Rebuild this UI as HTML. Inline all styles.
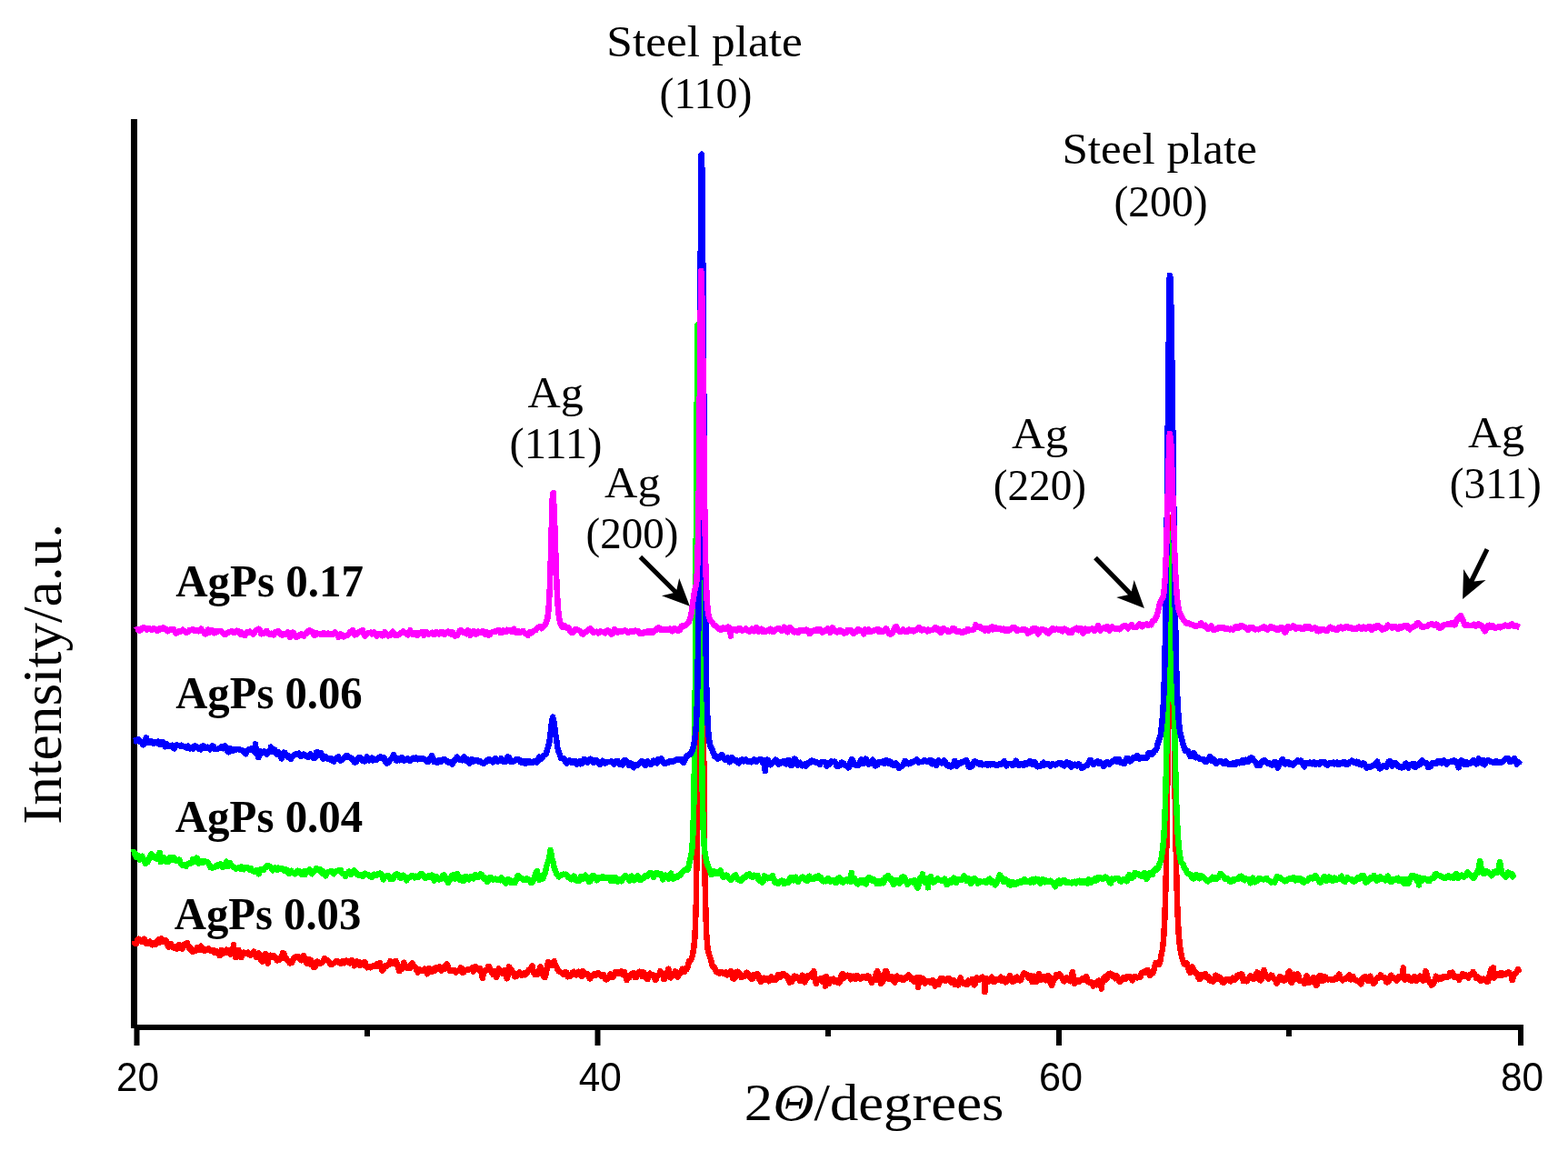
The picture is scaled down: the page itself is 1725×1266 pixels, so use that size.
<!DOCTYPE html>
<html><head><meta charset="utf-8"><title>XRD patterns</title>
<style>html,body{margin:0;padding:0;background:#fff;}svg{display:block;}text{font-family:'Liberation Serif',serif;fill:#000;}text.s{font-family:'Liberation Sans',sans-serif;}</style></head>
<body><svg width="1725" height="1266" viewBox="0 0 1725 1266">
<rect width="1725" height="1266" fill="#fff"/>
<rect x="144" y="131" width="7" height="1000" fill="#000"/>
<rect x="148" y="1127" width="1528" height="6" fill="#000"/>
<rect x="147.5" y="1130" width="6" height="20" fill="#000"/>
<rect x="654.5" y="1130" width="6" height="20" fill="#000"/>
<rect x="1162" y="1130" width="6" height="20" fill="#000"/>
<rect x="1670" y="1130" width="6" height="20" fill="#000"/>
<rect x="401" y="1130" width="6" height="10" fill="#000"/>
<rect x="908" y="1130" width="6" height="10" fill="#000"/>
<rect x="1415" y="1130" width="6" height="10" fill="#000"/>
<polyline points="147.30,1034.6 148.57,1037.9 149.84,1037.9 151.11,1034.0 152.38,1032.7 153.65,1033.2 154.92,1035.5 156.19,1035.8 157.46,1035.6 158.73,1032.7 160.00,1037.4 161.27,1037.6 162.54,1037.6 163.81,1036.3 165.08,1035.7 166.35,1038.0 167.62,1039.2 168.89,1037.4 170.16,1037.2 171.43,1038.4 172.70,1035.2 173.97,1033.6 175.24,1036.9 176.51,1035.7 177.78,1032.5 179.05,1034.3 180.32,1036.0 181.59,1034.6 182.86,1034.4 184.13,1038.5 185.40,1041.6 186.67,1039.7 187.94,1038.2 189.21,1040.8 190.48,1042.2 191.75,1041.0 193.02,1042.4 194.29,1043.8 195.56,1041.0 196.83,1039.2 198.10,1041.4 199.37,1043.1 200.64,1043.6 201.91,1039.3 203.18,1038.3 204.45,1037.9 205.72,1037.1 206.99,1041.1 208.26,1043.4 209.53,1042.5 210.80,1046.1 212.07,1047.0 213.34,1046.0 214.61,1045.7 215.88,1045.4 217.15,1041.9 218.42,1044.3 219.69,1044.8 220.96,1040.6 222.23,1043.0 223.50,1044.5 224.77,1045.8 226.04,1044.3 227.31,1044.4 228.58,1044.9 229.85,1043.5 231.12,1045.4 232.39,1045.8 233.66,1046.0 234.93,1045.3 236.20,1048.0 237.47,1048.1 238.74,1046.4 240.01,1048.1 241.28,1050.9 242.55,1050.7 243.82,1044.9 245.09,1047.1 246.36,1048.2 247.63,1046.0 248.90,1044.8 250.17,1047.7 251.44,1045.4 252.71,1047.9 253.98,1049.6 255.25,1044.3 256.52,1043.8 257.00,1039.0 257.79,1047.6 259.06,1052.8 260.33,1052.9 261.60,1045.2 262.87,1045.2 264.14,1050.3 265.41,1053.2 266.68,1050.8 267.95,1047.6 269.22,1048.8 270.49,1049.1 271.76,1048.2 273.03,1047.7 274.30,1050.0 275.57,1050.9 276.84,1049.9 278.11,1048.6 279.38,1046.7 280.65,1048.8 281.92,1053.0 283.19,1050.8 284.46,1048.4 285.73,1053.5 287.00,1055.8 288.27,1057.6 289.54,1054.0 290.81,1050.1 292.08,1049.2 293.35,1055.8 294.62,1059.5 295.89,1053.0 297.16,1050.8 298.43,1052.9 299.70,1051.3 300.97,1051.3 302.24,1052.2 303.51,1054.2 304.78,1056.4 306.05,1055.5 307.32,1055.8 308.59,1054.0 309.86,1052.8 311.13,1048.1 312.40,1048.9 313.67,1054.2 314.94,1054.2 316.21,1055.9 317.48,1057.7 318.75,1059.4 320.02,1059.2 321.29,1058.5 322.56,1055.6 323.83,1053.0 325.10,1052.5 326.37,1052.7 327.64,1052.0 328.91,1053.2 330.18,1055.3 331.45,1056.3 332.72,1054.2 333.99,1051.1 335.26,1054.2 336.53,1057.6 337.80,1059.8 339.07,1058.7 340.34,1055.3 341.61,1055.7 342.88,1061.5 344.15,1062.3 345.42,1064.0 346.69,1063.8 347.96,1057.8 349.23,1057.7 350.50,1059.2 351.77,1059.7 353.04,1059.6 354.31,1058.7 355.58,1057.2 356.85,1054.0 358.12,1055.2 359.39,1055.8 360.66,1057.1 361.93,1057.4 363.20,1059.7 364.47,1061.0 365.74,1060.1 367.01,1059.5 368.28,1058.6 369.55,1057.3 370.82,1057.3 372.09,1057.5 373.36,1059.2 374.63,1059.7 375.90,1059.5 377.17,1057.0 378.44,1059.3 379.71,1057.7 380.98,1056.6 382.25,1057.7 383.52,1058.1 384.79,1059.3 386.06,1057.8 387.33,1056.0 388.60,1057.6 389.87,1062.3 391.14,1060.8 392.41,1057.4 393.68,1058.0 394.95,1057.8 396.22,1062.1 397.49,1059.1 398.76,1060.7 400.03,1061.5 401.30,1058.2 402.57,1060.9 403.84,1064.2 405.11,1063.7 406.38,1063.2 407.65,1064.2 408.92,1063.2 410.19,1062.6 411.46,1062.2 412.73,1062.6 414.00,1060.8 415.27,1062.6 416.54,1060.8 417.81,1059.2 419.08,1063.1 420.35,1067.5 421.62,1066.2 422.89,1062.8 424.16,1063.4 425.43,1062.0 426.70,1061.8 427.97,1061.0 429.24,1057.2 430.51,1060.0 431.78,1059.8 433.05,1059.0 434.32,1057.4 435.59,1057.0 436.86,1059.7 438.13,1065.3 439.40,1068.2 440.67,1065.9 441.94,1065.9 443.21,1062.6 444.48,1058.7 445.75,1062.2 447.02,1064.5 448.29,1063.4 449.56,1064.5 450.83,1064.9 452.10,1061.4 453.37,1059.3 454.64,1061.7 455.91,1063.1 457.18,1063.9 458.45,1067.6 459.72,1069.4 460.99,1065.9 462.26,1066.6 463.53,1068.2 464.80,1068.2 466.07,1067.8 467.34,1065.6 468.61,1067.8 469.88,1071.2 471.15,1068.8 472.42,1065.0 473.69,1066.9 474.96,1069.1 476.23,1067.2 477.50,1065.5 478.77,1067.7 480.04,1064.3 481.31,1065.4 482.58,1065.1 483.85,1063.6 485.12,1067.6 486.39,1067.0 487.66,1063.8 488.93,1065.7 490.20,1064.1 491.47,1060.4 492.74,1062.5 494.01,1066.4 495.28,1068.1 496.55,1067.4 497.82,1067.0 499.09,1067.5 500.36,1067.3 501.63,1069.4 502.90,1068.4 504.17,1068.0 505.44,1067.6 506.71,1064.3 507.98,1065.0 509.25,1070.0 510.52,1069.2 511.79,1066.9 513.06,1067.2 514.33,1066.4 515.60,1066.8 516.87,1065.9 518.14,1066.1 519.41,1064.6 520.68,1068.5 521.95,1066.3 523.22,1062.9 524.49,1064.9 525.76,1066.3 527.03,1066.7 528.30,1065.3 529.57,1070.0 530.84,1076.1 532.11,1068.8 533.38,1067.3 534.65,1067.5 535.92,1066.7 537.19,1062.9 538.46,1063.6 539.73,1067.9 541.00,1069.6 542.27,1071.7 543.54,1068.5 544.81,1070.2 546.08,1075.1 547.35,1069.0 548.62,1065.5 549.89,1067.4 551.16,1069.0 552.43,1070.7 553.70,1069.3 554.97,1067.2 556.24,1070.4 557.51,1076.4 558.78,1072.9 560.05,1063.4 561.32,1065.0 562.59,1066.9 563.86,1069.5 565.13,1070.6 566.40,1074.4 567.67,1074.1 568.94,1072.6 570.21,1070.6 571.48,1069.6 572.75,1070.9 574.02,1073.1 575.29,1071.7 576.56,1070.0 577.83,1072.2 579.10,1071.0 580.37,1068.8 581.64,1066.8 582.91,1066.5 584.18,1065.1 585.45,1062.4 586.72,1069.1 587.99,1071.5 589.26,1070.2 590.53,1072.0 591.80,1071.7 593.07,1068.9 594.34,1063.3 595.61,1066.1 596.88,1070.9 598.15,1074.3 599.42,1075.1 600.69,1071.7 601.96,1063.0 603.23,1058.0 604.50,1061.4 605.77,1062.0 607.04,1061.9 608.00,1060.1 608.31,1058.6 609.58,1057.0 610.85,1061.0 612.12,1063.3 613.39,1066.3 614.66,1068.4 615.93,1068.6 617.20,1069.7 618.47,1070.4 619.74,1072.2 621.01,1071.9 622.28,1069.3 623.55,1069.8 624.82,1074.3 626.09,1073.2 627.36,1073.7 628.63,1072.7 629.90,1069.7 631.17,1068.9 632.44,1070.9 633.71,1072.5 634.98,1072.3 636.25,1068.7 637.52,1068.8 638.79,1071.8 640.06,1073.9 641.33,1068.0 642.60,1070.1 643.87,1071.2 645.14,1072.1 646.41,1071.5 647.68,1073.5 648.95,1076.5 650.22,1075.0 651.49,1073.9 652.76,1073.0 654.03,1071.1 655.30,1072.6 656.57,1071.7 657.84,1070.0 659.11,1071.1 660.38,1072.2 661.65,1073.9 662.92,1072.7 664.19,1072.2 665.46,1076.2 666.73,1077.4 668.00,1077.2 669.27,1075.4 670.54,1072.7 671.81,1071.3 673.08,1072.1 674.35,1074.7 675.62,1072.9 676.89,1069.1 678.16,1070.0 679.43,1069.2 680.70,1070.7 681.97,1069.0 683.24,1068.5 684.51,1071.6 685.78,1071.5 687.05,1069.3 688.32,1074.5 689.59,1078.0 690.86,1073.0 692.13,1075.5 693.40,1072.9 694.67,1071.0 695.94,1071.0 697.21,1070.2 698.48,1075.1 699.75,1075.1 701.02,1071.6 702.29,1070.5 703.56,1068.7 704.83,1071.1 706.10,1073.6 707.37,1069.4 708.64,1070.1 709.91,1073.4 711.18,1076.5 712.45,1076.9 713.72,1072.6 714.99,1070.8 716.26,1072.6 717.53,1071.9 718.80,1072.2 720.07,1076.0 721.34,1078.0 722.61,1074.8 723.88,1072.6 725.15,1072.1 726.42,1068.1 727.69,1069.3 728.96,1071.0 730.23,1077.2 731.50,1076.3 732.77,1072.8 734.04,1069.6 735.31,1065.7 736.58,1071.6 737.85,1075.4 739.12,1071.7 740.39,1072.5 741.66,1072.2 742.93,1068.3 744.20,1072.0 745.47,1074.5 746.74,1071.9 748.01,1070.1 749.28,1069.8 750.55,1065.7 751.82,1067.3 753.09,1068.9 754.36,1065.2 755.63,1066.0 756.90,1062.4 758.17,1057.1 759.44,1056.9 760.71,1054.4 761.98,1050.5 763.25,1042.7 764.52,1029.9 765.79,994.4 767.06,896.7 768.33,685.7 769.60,416.8 770.20,346.0 770.87,353.0 772.14,512.2 773.41,720.5 774.68,894.3 775.95,988.7 777.22,1027.4 778.49,1042.9 779.76,1048.9 781.03,1052.6 782.30,1056.7 783.57,1061.8 784.84,1064.0 786.11,1063.9 787.38,1067.4 788.65,1069.5 789.92,1069.4 791.19,1070.6 792.46,1068.9 793.73,1068.8 795.00,1070.5 796.27,1070.8 797.54,1071.3 798.81,1069.3 800.08,1072.4 801.35,1070.4 802.62,1069.1 803.89,1068.3 805.16,1072.6 806.43,1076.4 807.70,1076.7 808.97,1074.4 810.24,1069.0 811.51,1068.6 812.78,1070.0 814.05,1070.8 815.32,1074.9 816.59,1074.8 817.86,1073.8 819.13,1073.9 820.40,1071.1 821.67,1069.8 822.94,1071.0 824.21,1074.4 825.48,1075.9 826.75,1076.8 828.02,1076.6 829.29,1071.9 830.56,1071.8 831.83,1073.3 833.10,1071.2 834.37,1072.9 835.64,1077.7 836.91,1079.7 838.18,1079.2 839.45,1076.6 840.72,1075.8 841.99,1077.7 843.26,1076.2 844.53,1077.2 845.80,1079.2 847.07,1076.1 848.34,1074.3 849.61,1075.9 850.88,1078.0 852.15,1078.2 853.42,1077.5 854.69,1076.6 855.96,1072.3 857.23,1072.5 858.50,1074.9 859.77,1073.1 861.04,1071.0 862.31,1071.1 863.58,1072.5 864.85,1074.0 866.12,1073.7 867.39,1077.0 868.66,1080.6 869.93,1078.7 871.20,1079.6 872.47,1077.6 873.74,1073.7 875.01,1073.8 876.28,1074.1 877.55,1076.3 878.82,1075.2 880.09,1078.8 881.36,1077.7 882.63,1072.7 883.90,1077.2 885.17,1080.4 886.44,1076.8 887.71,1076.7 888.98,1073.1 890.25,1073.9 891.52,1072.7 892.79,1074.4 894.06,1070.5 895.33,1068.3 896.60,1076.0 897.87,1081.9 899.14,1078.0 900.41,1078.0 901.68,1077.3 902.95,1076.2 904.22,1078.6 905.49,1080.0 906.76,1075.4 908.00,1084.5 908.03,1076.5 909.30,1074.2 910.57,1079.9 911.84,1081.9 913.11,1077.1 914.38,1079.4 915.65,1077.8 916.92,1076.8 918.19,1079.6 919.46,1078.3 920.73,1078.1 922.00,1080.8 923.27,1081.2 924.54,1078.3 925.81,1072.1 927.08,1071.0 928.35,1075.9 929.62,1074.4 930.89,1074.1 932.16,1072.7 933.43,1072.9 934.70,1073.1 935.97,1077.2 937.24,1074.4 938.51,1073.8 939.78,1075.4 941.05,1076.9 942.32,1072.9 943.59,1073.4 944.86,1074.8 946.13,1076.4 947.40,1076.4 948.67,1074.5 949.94,1074.8 951.21,1074.6 952.48,1075.7 953.75,1074.8 955.02,1073.4 956.29,1074.7 957.56,1077.7 958.83,1081.0 960.10,1076.9 961.37,1076.8 962.64,1077.9 963.91,1070.7 965.18,1068.3 966.45,1070.7 967.72,1075.8 968.99,1081.9 970.26,1080.4 971.53,1079.3 972.80,1074.9 974.07,1068.1 975.34,1068.4 976.61,1076.1 977.88,1076.7 979.15,1074.1 980.42,1076.6 981.69,1074.6 982.96,1078.7 984.23,1080.6 985.50,1075.5 986.77,1073.7 988.04,1076.7 989.31,1075.5 990.58,1076.9 991.85,1075.4 993.12,1077.7 994.39,1077.7 995.66,1075.5 996.93,1074.5 998.20,1075.3 999.47,1072.5 1000.74,1074.2 1002.01,1076.4 1003.28,1077.7 1004.55,1076.2 1005.82,1080.1 1007.09,1077.7 1008.36,1075.5 1009.63,1080.9 1010.00,1086.0 1010.90,1078.4 1012.17,1075.3 1013.44,1076.2 1014.71,1075.8 1015.98,1077.4 1017.25,1081.6 1018.52,1080.6 1019.79,1079.0 1021.06,1079.0 1022.33,1078.9 1023.60,1080.7 1024.87,1080.9 1026.14,1078.4 1027.41,1079.8 1028.68,1084.6 1029.95,1081.9 1031.22,1079.9 1032.49,1083.2 1033.76,1079.8 1035.03,1076.3 1036.30,1078.3 1037.57,1076.6 1038.84,1076.6 1040.11,1078.7 1041.38,1078.1 1042.65,1076.3 1043.92,1076.1 1045.19,1077.5 1046.46,1080.5 1047.73,1077.9 1049.00,1078.2 1050.27,1082.9 1051.54,1080.8 1052.81,1083.0 1054.08,1083.5 1055.35,1078.9 1056.62,1075.5 1057.89,1078.8 1059.16,1081.5 1060.43,1082.0 1061.70,1080.9 1062.97,1082.8 1064.24,1082.7 1065.51,1078.6 1066.78,1081.2 1068.05,1080.1 1069.32,1077.2 1070.59,1078.5 1071.86,1083.4 1073.13,1081.6 1074.40,1075.3 1075.67,1076.6 1076.94,1077.9 1078.21,1077.3 1079.48,1075.8 1080.75,1074.7 1082.02,1078.1 1083.29,1076.5 1083.50,1091.0 1084.56,1075.8 1085.83,1076.3 1087.10,1079.4 1088.37,1079.3 1089.64,1076.2 1090.91,1074.7 1092.18,1076.5 1093.45,1079.9 1094.72,1079.5 1095.99,1078.5 1097.26,1077.2 1098.53,1077.1 1099.80,1076.8 1101.07,1074.7 1102.34,1079.2 1103.61,1077.1 1104.88,1076.6 1106.15,1080.5 1107.42,1079.7 1108.69,1077.6 1109.96,1075.1 1111.23,1073.2 1112.50,1077.1 1113.77,1079.9 1115.04,1077.5 1116.31,1079.0 1117.58,1075.5 1118.85,1074.7 1120.12,1077.7 1121.39,1078.2 1122.66,1078.4 1123.93,1075.3 1125.20,1072.4 1126.47,1070.4 1127.74,1071.1 1129.01,1071.9 1130.28,1072.4 1131.55,1075.5 1132.82,1074.1 1134.09,1073.0 1135.36,1080.1 1136.63,1076.4 1137.90,1073.8 1139.17,1079.1 1140.44,1079.9 1141.71,1074.0 1142.98,1071.0 1144.25,1073.2 1145.52,1077.8 1146.79,1076.2 1148.06,1074.1 1149.33,1076.2 1150.60,1078.2 1151.87,1073.9 1153.14,1073.1 1154.41,1074.1 1155.68,1081.7 1156.95,1084.0 1158.22,1080.9 1159.49,1077.8 1160.76,1076.6 1162.03,1072.3 1163.30,1074.1 1164.57,1072.6 1165.84,1071.5 1167.11,1073.3 1168.38,1075.5 1169.65,1078.4 1170.92,1079.4 1172.19,1077.7 1173.46,1075.4 1174.73,1077.6 1176.00,1078.2 1177.27,1079.1 1178.54,1074.1 1179.81,1069.1 1181.08,1074.5 1182.35,1082.1 1183.62,1080.6 1184.89,1078.1 1186.16,1079.7 1187.43,1079.8 1188.70,1078.7 1189.97,1076.7 1191.24,1077.2 1192.51,1077.5 1193.78,1075.3 1195.05,1074.2 1196.32,1077.3 1197.59,1080.5 1198.86,1080.6 1200.13,1080.0 1201.40,1081.2 1202.67,1084.6 1203.94,1081.6 1205.21,1081.7 1206.48,1083.2 1207.75,1079.6 1209.02,1078.6 1210.29,1081.0 1211.56,1082.4 1211.80,1087.5 1212.83,1078.1 1214.10,1076.4 1215.37,1074.5 1216.64,1077.6 1217.91,1075.6 1219.18,1071.6 1220.45,1072.6 1221.72,1070.8 1222.99,1071.5 1224.26,1074.0 1225.53,1074.2 1226.80,1076.2 1228.07,1073.2 1229.34,1075.0 1230.61,1078.0 1231.88,1080.1 1233.15,1079.2 1234.42,1076.7 1235.69,1075.3 1236.96,1075.5 1238.23,1076.9 1239.50,1074.4 1240.77,1074.9 1242.04,1074.7 1243.31,1074.5 1244.58,1075.1 1245.85,1078.4 1247.12,1074.6 1248.39,1073.8 1249.66,1074.7 1250.93,1075.4 1252.20,1075.1 1253.47,1075.0 1254.74,1074.4 1256.01,1069.7 1257.28,1069.6 1258.55,1068.7 1259.82,1069.7 1261.09,1067.5 1262.36,1066.9 1263.63,1069.7 1264.90,1073.0 1266.17,1071.8 1267.44,1070.3 1268.71,1070.0 1269.98,1064.0 1271.25,1059.3 1272.52,1060.2 1273.79,1060.6 1275.06,1060.9 1276.33,1057.8 1277.60,1049.9 1278.87,1044.6 1280.14,1032.5 1281.41,1009.6 1282.68,967.6 1283.95,893.0 1285.22,778.3 1286.49,645.3 1287.60,572.4 1287.76,569.0 1289.03,600.9 1290.30,685.4 1291.57,786.8 1292.84,884.7 1294.11,956.4 1295.38,1001.9 1296.65,1026.5 1297.92,1040.9 1299.19,1047.6 1300.46,1053.8 1301.73,1057.4 1303.00,1060.6 1304.27,1061.1 1305.54,1059.5 1306.81,1062.5 1308.08,1067.6 1309.35,1069.8 1310.62,1065.8 1311.89,1063.5 1313.16,1066.7 1314.43,1069.8 1315.70,1069.9 1316.97,1070.6 1318.24,1074.9 1319.51,1077.1 1320.78,1075.8 1322.05,1072.4 1323.32,1073.0 1324.59,1072.7 1325.86,1071.2 1327.13,1075.1 1328.40,1075.4 1329.67,1074.7 1330.94,1078.4 1332.21,1079.0 1333.48,1079.0 1334.75,1079.6 1336.02,1077.4 1337.29,1072.7 1338.56,1073.7 1339.83,1076.8 1341.10,1074.7 1342.37,1075.2 1343.64,1077.6 1344.91,1080.6 1346.18,1081.1 1347.45,1079.3 1348.72,1077.0 1349.99,1078.3 1351.26,1078.0 1352.53,1077.1 1353.80,1079.4 1355.07,1078.1 1356.34,1075.6 1357.61,1078.1 1358.88,1077.1 1360.15,1076.2 1361.42,1072.8 1362.69,1073.6 1363.96,1072.8 1365.23,1071.3 1366.50,1071.8 1367.77,1079.2 1369.04,1078.2 1370.31,1077.5 1371.58,1079.1 1372.85,1077.4 1374.12,1076.4 1375.39,1073.5 1376.66,1075.0 1377.93,1075.7 1379.20,1077.1 1380.47,1076.2 1381.74,1071.7 1383.01,1069.5 1384.28,1072.2 1385.55,1077.2 1386.82,1078.3 1388.09,1076.3 1389.36,1069.8 1390.63,1067.0 1391.90,1071.5 1393.17,1074.2 1394.44,1074.7 1395.71,1076.4 1396.98,1075.4 1398.25,1072.6 1399.52,1073.0 1400.79,1075.8 1402.06,1076.7 1403.33,1078.0 1404.60,1081.8 1405.87,1078.4 1407.14,1075.9 1408.41,1074.0 1409.68,1075.0 1410.95,1077.9 1412.22,1078.5 1413.49,1077.2 1414.76,1077.5 1416.03,1075.8 1417.30,1069.9 1418.57,1068.3 1419.84,1079.4 1421.11,1081.1 1422.38,1076.5 1423.65,1071.7 1424.92,1072.8 1426.19,1076.8 1427.46,1071.3 1428.73,1073.9 1430.00,1078.8 1431.27,1078.9 1432.54,1079.1 1433.81,1079.3 1435.08,1082.2 1436.35,1076.3 1437.62,1073.1 1438.89,1077.4 1440.16,1081.0 1441.43,1079.5 1442.70,1079.5 1443.97,1076.4 1445.24,1075.0 1446.51,1080.7 1447.78,1083.9 1449.05,1082.7 1450.32,1077.3 1451.59,1073.3 1452.86,1073.0 1454.13,1075.8 1455.40,1078.7 1456.67,1078.1 1457.94,1074.4 1459.21,1076.1 1460.48,1077.3 1461.75,1077.3 1463.02,1076.9 1464.29,1076.8 1465.56,1078.2 1466.83,1077.9 1468.10,1077.0 1469.37,1075.6 1470.64,1076.8 1471.91,1075.2 1473.18,1071.6 1474.45,1075.2 1475.72,1076.9 1476.99,1078.3 1478.26,1076.9 1479.53,1076.1 1480.80,1076.7 1482.07,1076.1 1483.34,1073.8 1484.61,1072.5 1485.88,1077.5 1487.15,1073.8 1488.42,1074.0 1489.69,1077.4 1490.96,1077.9 1492.23,1078.3 1493.50,1079.3 1494.77,1080.0 1496.04,1079.9 1497.31,1082.5 1498.58,1076.4 1499.85,1074.9 1501.12,1074.5 1502.39,1074.1 1503.66,1076.7 1504.93,1079.0 1506.20,1075.0 1507.47,1073.8 1508.74,1077.1 1510.01,1079.3 1511.28,1082.0 1512.55,1080.7 1513.82,1077.4 1515.09,1075.5 1516.36,1075.9 1517.63,1074.7 1518.90,1072.4 1520.17,1074.3 1521.44,1075.3 1522.71,1075.0 1523.98,1075.9 1525.25,1080.3 1526.52,1080.3 1527.79,1078.8 1529.06,1074.9 1530.33,1072.8 1531.60,1074.5 1532.87,1076.2 1534.14,1075.5 1535.41,1076.1 1536.68,1078.6 1537.95,1077.4 1539.22,1074.0 1540.49,1073.8 1541.76,1074.3 1543.03,1075.3 1543.80,1064.5 1544.30,1075.2 1545.57,1077.9 1546.84,1076.6 1548.11,1073.9 1549.38,1074.1 1550.65,1076.5 1551.92,1078.4 1553.19,1078.9 1554.46,1076.0 1555.73,1074.0 1557.00,1078.6 1558.27,1078.7 1559.54,1077.8 1560.81,1076.6 1562.08,1073.6 1563.35,1074.3 1564.62,1076.9 1565.89,1078.7 1567.16,1074.9 1568.43,1068.1 1569.70,1072.1 1570.97,1077.1 1572.24,1079.8 1573.51,1080.7 1574.78,1083.7 1576.05,1082.8 1577.32,1081.2 1578.59,1078.3 1579.86,1073.7 1581.13,1076.4 1582.40,1077.2 1583.67,1075.1 1584.94,1076.4 1586.21,1076.4 1587.48,1074.3 1588.75,1074.0 1590.02,1074.3 1591.29,1074.9 1592.56,1074.4 1593.83,1074.3 1595.10,1070.3 1596.37,1070.7 1597.64,1069.7 1598.91,1071.9 1600.18,1075.2 1601.45,1075.1 1602.72,1074.4 1603.99,1075.7 1605.26,1077.7 1606.53,1074.1 1607.80,1074.4 1609.07,1071.3 1610.34,1071.8 1611.61,1073.6 1612.88,1072.6 1614.15,1074.4 1615.42,1075.4 1616.69,1072.1 1617.96,1072.5 1619.23,1071.8 1620.50,1068.9 1621.77,1071.1 1623.04,1072.9 1624.31,1076.0 1625.58,1074.6 1626.85,1077.2 1628.12,1076.0 1629.39,1078.8 1630.66,1077.9 1631.93,1076.5 1633.20,1077.3 1634.47,1078.3 1635.74,1079.8 1637.01,1079.6 1638.28,1074.1 1639.55,1068.7 1640.82,1065.7 1642.09,1070.5 1643.00,1064.5 1643.36,1075.7 1644.63,1074.4 1645.90,1072.7 1647.17,1071.7 1648.44,1072.6 1649.71,1073.2 1650.98,1070.3 1652.25,1072.6 1653.52,1070.7 1654.79,1071.3 1656.06,1071.6 1657.33,1071.3 1658.60,1069.8 1659.87,1069.4 1661.14,1071.0 1662.41,1072.4 1663.68,1078.1 1664.95,1074.7 1666.22,1071.2 1667.49,1070.6 1668.76,1068.4 1670.03,1066.0 1671.30,1070.1" fill="none" stroke="#ff0000" stroke-width="6.5" stroke-linejoin="round" stroke-linecap="butt" shape-rendering="crispEdges"/>
<polyline points="145.00,937.6 146.27,936.8 147.54,937.4 148.81,940.0 150.08,943.2 151.35,940.8 152.62,943.7 153.89,945.7 155.16,943.0 156.43,941.9 157.70,944.5 158.97,947.8 160.24,949.8 161.51,948.6 162.78,947.8 164.05,944.2 165.32,941.2 166.59,939.5 167.86,940.4 169.13,942.7 170.40,943.8 171.67,942.6 172.94,945.0 174.21,944.8 175.48,943.1 175.70,938.0 176.75,948.1 178.02,946.4 179.29,943.0 180.56,943.4 181.83,947.5 183.10,946.3 184.37,947.9 185.64,947.7 186.91,942.9 188.18,946.0 189.45,945.5 190.72,943.0 191.99,943.9 193.26,946.4 194.53,947.1 195.80,946.6 197.07,945.6 198.34,948.7 199.61,951.0 200.88,951.6 202.15,951.0 203.42,952.3 204.69,952.8 205.96,950.6 207.23,949.8 208.50,949.4 209.77,949.4 211.04,948.7 212.31,945.0 213.58,946.0 214.85,947.4 216.12,943.7 217.39,944.7 218.66,949.7 219.93,947.7 221.20,947.4 222.47,949.1 223.74,948.1 225.01,947.1 226.28,947.6 227.55,948.1 228.82,948.6 230.09,950.9 231.36,953.8 232.63,953.5 233.90,954.6 235.17,954.2 236.44,953.7 237.71,952.9 238.98,951.6 240.25,952.3 241.52,952.0 242.79,950.3 244.06,952.7 245.33,953.9 246.60,953.0 247.87,950.1 249.14,947.7 250.41,953.0 251.68,952.4 252.95,948.9 254.22,951.9 255.49,952.5 256.76,953.9 258.03,954.3 259.30,955.7 260.57,955.1 261.84,954.6 263.11,955.0 264.38,955.7 265.65,953.3 266.92,955.8 268.19,956.3 269.46,954.0 270.73,953.9 272.00,953.8 273.27,955.1 274.54,956.4 275.81,955.0 277.08,956.7 278.35,958.2 279.62,958.4 280.89,959.1 282.16,957.3 283.43,958.5 284.70,961.2 285.97,958.0 287.24,955.8 288.51,956.2 289.78,956.9 291.05,955.3 292.32,954.3 293.59,952.1 294.86,952.3 296.13,952.9 297.40,953.2 298.67,955.1 299.94,957.4 301.21,955.9 302.48,954.2 303.75,956.4 305.02,956.7 306.29,954.6 307.56,955.7 308.83,954.9 310.10,954.8 311.37,955.9 312.64,958.0 313.91,956.5 315.18,956.5 316.45,958.4 317.72,960.6 318.99,960.6 320.26,957.8 321.53,959.7 322.80,960.3 324.07,961.3 325.34,960.9 326.61,958.1 327.88,957.7 329.15,957.9 330.42,959.7 331.69,961.8 332.96,959.5 334.23,958.6 335.50,962.2 336.77,958.6 338.04,957.7 339.31,957.7 340.58,956.5 341.85,959.6 343.12,961.2 344.39,959.4 345.66,958.6 346.93,957.4 348.20,955.2 349.47,956.9 350.74,955.9 352.01,956.1 353.28,959.2 354.55,960.5 355.82,958.7 357.09,961.4 358.36,963.4 359.63,960.8 360.90,959.3 362.17,959.3 363.44,958.2 364.71,957.8 365.98,960.4 367.25,961.2 368.52,959.2 369.79,958.3 371.06,958.0 372.33,957.6 373.60,956.8 374.87,957.0 376.14,960.6 377.41,960.6 378.68,961.5 379.95,964.0 381.22,961.7 382.49,961.0 383.76,958.6 385.03,959.2 386.30,961.8 387.57,960.6 388.84,957.7 390.11,957.6 391.38,960.5 392.65,960.6 393.92,962.6 395.19,962.9 396.46,961.8 397.73,962.3 399.00,963.7 400.27,962.6 401.54,960.9 402.81,962.2 404.08,962.0 405.35,962.2 406.62,963.8 407.89,964.4 409.16,964.9 410.43,963.1 411.70,961.7 412.97,962.1 414.24,962.9 415.51,961.5 416.78,961.2 418.05,960.7 419.32,960.9 420.59,963.5 421.86,967.4 423.13,964.7 424.40,963.7 425.67,963.6 426.94,963.2 428.21,964.5 429.48,967.1 430.75,965.6 432.02,966.9 433.29,965.7 434.56,962.3 435.83,961.5 437.10,961.7 438.37,962.0 439.64,965.3 440.91,965.9 442.18,964.8 443.45,962.8 444.72,963.8 445.99,964.8 447.26,968.3 448.53,966.2 449.80,965.0 451.07,965.0 452.34,963.5 453.61,963.0 454.88,963.8 456.15,965.3 457.42,963.7 458.69,963.8 459.96,964.8 461.23,963.3 462.50,961.1 463.77,961.0 465.04,962.4 466.31,963.1 467.58,965.8 468.85,965.6 470.12,964.4 471.39,963.3 472.66,964.9 473.93,964.2 475.20,962.7 476.47,964.4 477.74,968.7 479.01,965.6 480.28,963.9 481.55,967.1 482.82,967.5 484.09,966.2 485.36,967.0 486.63,963.5 487.90,962.6 489.17,962.7 490.44,966.9 491.71,968.2 492.98,970.9 494.25,969.0 495.52,966.5 496.79,963.4 498.06,962.4 499.33,964.4 500.60,966.5 501.87,963.4 503.14,961.1 504.41,966.0 505.68,967.7 506.95,965.3 508.22,966.7 509.49,969.0 510.76,968.3 512.03,964.1 513.30,964.5 514.57,965.1 515.84,967.3 517.11,966.4 518.38,964.0 519.65,965.6 520.92,966.4 522.19,963.0 523.46,962.0 524.73,963.5 526.00,964.7 527.27,963.8 528.54,961.4 529.81,961.8 531.08,965.1 532.35,966.5 533.62,965.2 534.89,967.1 536.16,970.0 537.43,967.4 538.70,965.2 539.97,965.1 541.24,967.0 542.51,967.6 543.78,967.2 545.05,966.5 546.32,967.5 547.59,967.9 548.86,967.6 550.13,968.2 551.40,965.4 552.67,967.1 553.94,967.8 555.21,969.7 556.48,971.5 557.75,968.8 559.02,967.0 560.29,967.8 561.56,970.6 562.83,971.2 564.10,969.0 565.37,969.3 566.64,970.9 567.91,968.3 569.18,963.7 570.45,963.3 571.72,964.8 572.99,966.2 574.26,966.0 575.53,967.9 576.80,966.9 578.07,968.0 579.34,966.4 580.61,967.7 581.88,967.6 583.15,969.2 584.42,971.0 585.69,970.5 586.96,967.9 588.23,963.6 589.50,960.5 590.77,958.2 592.04,964.8 593.31,967.8 594.58,965.9 595.85,963.3 597.12,966.4 598.39,962.9 599.66,960.1 600.93,954.1 602.20,949.9 603.47,946.8 604.74,940.0 605.50,935.0 606.01,936.4 607.28,944.1 608.55,948.4 609.82,955.4 611.09,957.6 612.36,961.3 613.63,963.0 614.90,964.4 616.17,963.0 617.44,962.4 618.71,962.3 619.98,961.7 621.25,962.2 622.52,961.7 623.79,962.7 625.06,965.0 626.33,965.0 627.60,966.8 628.87,967.3 630.14,966.3 631.41,963.6 632.68,965.5 633.95,968.5 635.22,968.7 636.49,969.0 637.76,968.2 639.03,963.9 640.30,965.3 641.57,966.5 642.84,964.6 644.11,962.7 645.38,964.4 646.65,966.3 647.92,969.8 649.19,969.4 650.46,965.3 651.73,962.8 653.00,963.0 654.27,964.4 655.54,965.3 656.81,968.3 658.08,965.1 659.35,964.8 660.62,966.2 661.89,966.2 663.16,964.3 664.43,964.7 665.70,966.1 666.97,966.2 668.24,964.8 669.51,964.8 670.78,966.9 672.05,968.9 673.32,965.5 674.59,967.0 675.86,968.5 677.13,965.2 678.40,968.2 679.67,969.6 680.94,967.6 682.21,968.5 683.48,969.3 684.75,966.8 686.02,965.4 687.29,963.4 688.56,963.4 689.83,965.1 691.10,966.4 692.37,968.5 693.64,965.8 694.91,963.6 696.18,966.7 697.45,968.2 698.72,967.0 699.99,965.1 701.26,963.5 702.53,964.4 703.80,968.2 705.07,968.2 706.34,966.5 707.61,966.0 708.88,964.4 710.15,962.9 711.42,963.4 712.69,963.7 713.96,961.0 715.23,959.9 716.50,960.1 717.77,962.9 719.04,964.8 720.31,962.1 721.58,960.5 722.85,960.2 724.12,961.6 725.39,961.1 726.66,960.9 727.93,962.6 729.20,967.5 730.47,965.5 731.74,962.6 733.01,963.1 734.28,965.7 735.55,966.5 736.82,963.9 738.09,960.6 739.36,964.2 740.63,966.4 741.90,965.7 743.17,964.4 744.44,963.7 745.71,964.4 746.98,962.8 748.25,962.9 749.52,960.6 750.79,958.9 752.06,957.9 753.33,956.8 754.60,956.2 755.87,957.0 757.14,955.5 758.41,949.4 759.68,943.9 760.95,937.7 762.22,921.1 763.49,876.6 764.76,760.8 766.03,550.0 767.30,363.3 767.40,357.6 768.57,405.4 769.84,563.3 771.11,735.0 772.38,853.5 773.65,911.0 774.92,933.6 776.19,942.4 777.46,948.0 778.73,952.6 780.00,955.0 781.27,957.5 782.54,962.1 783.81,961.1 785.08,958.2 786.35,959.8 787.62,960.9 788.89,959.7 790.16,960.5 791.43,959.2 792.70,957.5 793.97,961.7 795.24,964.6 796.51,964.8 797.78,963.3 799.05,962.5 800.32,963.9 801.59,965.5 802.86,967.0 804.13,968.1 805.40,966.8 806.67,964.1 807.94,963.3 809.21,962.4 810.48,965.5 811.75,967.4 813.02,968.3 814.29,968.1 815.56,968.5 816.83,965.7 818.10,965.6 819.37,965.3 820.64,964.2 821.91,961.8 823.18,961.9 824.45,961.3 825.72,963.4 826.99,964.6 828.26,964.9 829.53,962.7 830.80,963.7 832.07,964.3 833.34,962.9 834.61,968.1 835.88,968.6 837.15,966.9 838.42,970.6 839.69,969.7 840.96,963.4 842.23,964.2 843.50,965.7 844.77,966.3 846.04,965.4 847.31,966.1 848.58,966.0 849.85,963.0 851.12,966.5 852.39,970.4 853.66,969.8 854.93,971.0 856.20,971.9 857.47,969.9 858.74,969.1 860.01,968.7 861.28,968.7 862.55,972.1 863.82,971.0 865.09,970.0 866.36,971.0 867.63,970.8 868.90,966.0 870.17,965.0 871.44,967.6 872.71,968.3 873.98,965.3 875.25,964.8 876.52,968.7 877.79,969.8 879.06,967.9 880.33,966.9 881.60,965.8 882.87,964.7 884.14,965.4 885.41,967.4 886.68,968.2 887.95,968.9 889.22,965.3 890.49,963.9 891.76,967.0 893.03,966.4 894.30,966.6 895.57,966.9 896.84,964.7 898.11,964.0 899.38,965.6 900.65,963.2 901.92,965.9 903.19,965.4 904.46,968.3 905.73,969.4 907.00,969.1 908.27,969.3 909.54,968.1 910.81,966.1 912.08,968.7 913.35,969.4 914.62,969.2 915.89,968.3 917.16,968.3 918.43,970.5 919.70,971.1 920.97,969.0 922.24,965.9 923.51,965.2 924.78,966.4 926.05,970.1 927.32,970.6 928.59,969.2 929.86,968.2 931.13,967.7 932.40,969.2 933.67,967.1 934.94,967.0 936.21,970.2 936.70,960.0 937.48,968.8 938.75,966.0 940.02,966.1 941.29,969.9 942.56,971.5 943.83,972.3 945.10,969.7 946.37,968.4 947.64,968.4 948.91,970.9 950.18,968.0 951.45,970.2 952.72,972.4 953.99,968.1 955.26,965.3 956.53,965.3 957.80,965.8 959.07,968.6 960.34,968.8 961.61,967.3 962.88,968.7 964.15,971.6 965.42,969.7 966.69,969.3 967.96,972.0 969.23,968.7 970.50,968.3 971.77,971.3 973.04,969.1 974.31,964.7 975.58,964.2 976.85,963.2 978.12,965.7 979.39,967.8 980.66,966.6 981.93,970.9 983.20,972.7 984.47,970.8 985.74,967.9 987.01,968.3 988.28,970.1 989.55,971.4 990.82,970.5 992.09,964.9 993.36,964.5 994.63,965.1 995.90,966.7 997.17,969.6 998.44,972.8 999.71,970.5 1000.98,970.0 1002.25,969.2 1003.52,969.3 1004.79,971.0 1006.06,968.1 1007.33,970.0 1008.60,974.9 1009.87,976.6 1011.14,969.9 1012.41,965.7 1013.68,965.0 1014.95,966.6 1015.00,961.5 1016.22,969.2 1017.49,970.6 1018.76,969.1 1020.03,968.1 1021.00,976.3 1021.30,965.8 1022.57,966.4 1023.84,964.0 1025.11,967.4 1026.38,970.5 1027.65,969.8 1028.92,969.3 1030.19,968.4 1031.46,966.6 1032.73,967.7 1034.00,967.9 1035.27,968.7 1036.54,969.2 1037.81,968.6 1039.08,966.6 1040.35,968.9 1041.62,972.9 1042.89,972.3 1044.16,969.2 1045.43,968.2 1046.70,970.5 1047.97,969.0 1049.24,965.6 1050.51,967.8 1051.78,971.1 1053.05,967.4 1054.32,967.5 1055.59,967.6 1056.86,968.1 1058.13,967.7 1059.40,965.6 1060.67,963.2 1061.94,966.4 1063.21,968.7 1064.48,968.1 1065.75,966.5 1067.02,968.1 1068.29,972.1 1069.56,968.4 1070.83,966.7 1072.10,966.0 1073.37,967.5 1074.64,969.8 1075.91,971.6 1077.18,970.4 1078.45,969.3 1079.72,969.9 1080.99,970.2 1082.26,969.3 1083.53,969.5 1084.80,970.8 1086.07,968.4 1087.34,967.5 1088.61,966.6 1089.88,967.8 1091.15,970.8 1092.42,969.0 1093.69,970.4 1094.96,973.5 1096.23,971.4 1097.50,968.4 1098.77,965.5 1100.04,962.4 1101.31,964.1 1102.58,966.5 1103.85,970.1 1105.12,970.2 1106.39,967.3 1107.66,968.6 1108.93,969.2 1110.20,972.8 1111.47,973.8 1112.74,971.5 1114.01,970.0 1115.28,972.8 1116.55,973.1 1117.82,972.7 1119.09,971.3 1120.36,969.9 1121.63,970.4 1122.90,969.1 1124.17,970.5 1125.44,969.7 1126.71,966.9 1127.98,969.2 1129.25,969.8 1130.52,969.0 1131.79,969.7 1133.06,970.6 1134.33,967.7 1135.60,967.3 1136.87,970.4 1138.14,969.9 1139.41,966.8 1140.68,967.8 1141.95,967.1 1143.22,970.1 1144.49,971.4 1145.76,970.4 1147.03,967.1 1148.30,967.8 1149.57,970.3 1150.84,968.4 1152.11,969.8 1153.38,970.0 1154.65,969.6 1155.92,968.8 1157.19,970.6 1158.46,971.6 1159.73,973.2 1161.00,975.2 1162.27,971.5 1163.54,969.2 1164.81,968.7 1166.08,972.0 1167.35,970.8 1168.62,970.2 1169.89,967.9 1171.16,968.4 1172.43,970.7 1173.70,970.8 1174.97,969.9 1176.24,971.0 1177.51,971.0 1178.78,971.5 1180.05,970.2 1181.32,970.2 1182.59,969.7 1183.86,971.4 1185.13,970.3 1186.40,969.1 1187.67,968.7 1188.94,970.7 1190.21,970.1 1191.48,969.5 1192.75,971.0 1194.02,969.2 1195.29,971.0 1196.56,971.6 1197.83,967.3 1199.10,969.4 1200.37,970.5 1201.64,969.7 1202.91,968.7 1204.18,966.7 1205.45,968.4 1206.72,968.2 1207.99,965.4 1209.26,965.8 1210.53,965.4 1211.80,966.5 1213.07,966.2 1214.34,966.4 1215.61,964.6 1216.88,965.0 1218.15,966.0 1219.42,967.3 1220.69,970.5 1221.96,971.5 1223.23,966.5 1224.50,967.3 1225.77,966.9 1227.04,965.9 1228.31,965.8 1229.58,966.1 1230.85,966.8 1232.12,968.7 1233.39,969.8 1234.66,968.2 1235.93,967.0 1237.20,967.5 1238.47,968.3 1239.74,969.2 1241.01,964.7 1242.28,962.2 1243.55,964.0 1244.82,965.7 1246.09,965.3 1247.36,964.1 1248.63,959.9 1249.90,960.9 1251.17,962.0 1252.44,961.1 1253.71,962.0 1254.98,963.4 1256.25,964.0 1257.52,961.4 1258.79,959.9 1260.06,963.6 1261.33,966.9 1262.60,964.5 1263.87,962.0 1265.14,960.0 1266.41,961.4 1267.68,962.1 1268.95,957.8 1270.22,957.8 1271.49,955.5 1272.76,956.7 1274.03,955.2 1275.30,951.1 1276.57,947.9 1277.84,943.3 1279.11,934.2 1280.38,920.6 1281.65,894.8 1282.92,848.9 1284.19,777.1 1285.46,683.9 1286.73,603.2 1287.20,588.1 1288.00,587.5 1289.27,632.5 1290.54,701.0 1291.81,777.2 1293.08,842.8 1294.35,887.8 1295.62,915.8 1296.89,932.8 1298.16,942.3 1299.43,948.4 1300.70,949.7 1301.97,951.5 1303.24,955.8 1304.51,956.4 1305.78,959.6 1307.05,960.7 1308.32,961.5 1309.59,961.6 1310.86,964.2 1312.13,966.3 1313.40,966.5 1314.67,964.5 1315.94,962.1 1317.21,964.8 1318.48,965.9 1319.75,966.3 1321.02,963.2 1322.29,964.3 1323.56,964.6 1324.83,965.4 1326.10,967.5 1327.37,968.7 1328.64,969.4 1329.91,968.3 1331.18,967.6 1332.45,966.6 1333.72,964.9 1334.99,966.9 1336.26,965.4 1337.53,965.1 1338.80,966.5 1340.07,965.4 1341.34,963.8 1342.61,961.0 1343.88,962.3 1345.15,963.4 1346.42,964.9 1347.69,967.1 1348.96,966.6 1350.23,966.4 1351.50,967.5 1352.77,969.5 1354.04,970.1 1355.31,968.6 1356.58,967.4 1357.85,968.4 1359.12,967.1 1360.39,966.7 1361.66,967.2 1362.93,965.8 1364.20,964.0 1365.47,963.7 1366.74,965.7 1368.01,967.6 1369.28,968.2 1370.55,966.5 1371.82,967.1 1373.09,967.3 1374.36,967.9 1375.63,971.3 1376.90,967.6 1378.17,965.5 1379.44,967.8 1380.71,970.3 1381.98,968.8 1383.25,969.2 1384.52,966.5 1385.79,965.9 1387.06,966.7 1388.33,967.0 1389.60,967.4 1390.87,967.3 1392.14,966.7 1393.41,965.9 1394.68,967.8 1395.95,968.4 1397.22,969.0 1398.49,970.5 1399.76,969.9 1401.03,969.5 1402.30,970.4 1403.57,967.3 1404.84,964.3 1406.11,964.7 1407.38,964.8 1408.65,966.1 1409.92,967.0 1411.19,967.6 1412.46,968.5 1413.73,969.3 1415.00,969.1 1416.27,968.1 1417.54,966.9 1418.81,966.4 1420.08,966.9 1421.35,966.4 1422.62,965.0 1423.89,966.1 1425.16,968.3 1426.43,967.6 1427.70,966.0 1428.97,967.4 1430.24,968.0 1431.51,966.7 1432.78,970.1 1434.05,970.6 1435.32,968.6 1436.59,969.3 1437.86,968.9 1439.13,968.1 1440.40,965.8 1441.67,965.4 1442.94,966.2 1444.21,966.4 1445.48,965.2 1446.75,963.2 1448.02,963.9 1449.29,966.6 1450.56,967.4 1451.83,970.4 1453.10,970.6 1454.37,967.7 1455.64,966.2 1456.91,964.1 1458.18,967.3 1459.45,969.0 1460.72,966.0 1461.99,964.6 1463.26,965.6 1464.53,968.2 1465.80,968.8 1467.07,965.8 1468.34,965.7 1469.61,967.6 1470.88,967.5 1472.15,966.8 1473.42,967.1 1474.69,964.9 1475.96,963.8 1477.23,967.2 1478.50,969.3 1479.77,969.7 1481.04,967.0 1482.31,965.2 1483.58,966.3 1484.85,966.8 1486.12,967.0 1487.39,967.5 1488.66,969.5 1489.93,969.3 1491.20,969.3 1492.47,966.2 1493.74,965.1 1495.01,967.1 1496.28,964.8 1497.55,963.3 1498.82,962.9 1500.09,962.9 1501.36,967.1 1502.63,970.6 1503.90,969.8 1505.17,968.8 1506.44,966.6 1507.71,965.3 1508.98,966.6 1510.25,964.5 1511.52,963.0 1512.79,964.8 1514.06,968.5 1515.33,968.5 1516.60,966.4 1517.87,964.5 1519.14,964.7 1520.41,966.9 1521.68,966.9 1522.95,966.3 1524.22,968.3 1525.49,966.1 1526.76,963.7 1528.03,966.0 1529.30,969.3 1530.57,969.9 1531.84,969.2 1533.11,966.9 1534.38,967.6 1535.65,967.8 1536.92,966.4 1538.19,965.8 1539.46,968.8 1540.73,968.3 1542.00,967.0 1543.27,969.7 1544.54,971.9 1545.81,967.0 1547.08,967.9 1548.35,972.0 1549.62,971.8 1550.89,966.8 1552.16,964.5 1553.43,963.0 1554.70,964.6 1555.97,963.5 1557.24,964.5 1558.51,967.8 1559.78,964.7 1561.00,973.4 1561.05,965.3 1562.32,967.1 1563.59,967.8 1564.86,968.5 1566.13,966.1 1567.40,966.1 1568.67,967.3 1569.94,966.9 1571.21,969.1 1572.48,969.2 1573.75,967.0 1575.02,965.9 1576.29,966.2 1577.56,965.5 1578.83,961.8 1580.10,961.4 1581.37,962.7 1582.64,963.0 1583.91,963.3 1585.18,963.8 1586.45,964.8 1587.72,964.9 1588.99,965.7 1590.26,965.9 1591.53,964.9 1592.80,963.7 1594.07,963.5 1595.34,965.3 1596.61,964.5 1597.88,965.0 1599.15,966.1 1600.42,964.4 1601.69,961.0 1602.96,962.4 1604.23,966.0 1605.50,963.0 1606.77,964.1 1608.04,962.5 1609.31,963.3 1610.58,964.8 1611.85,962.7 1613.12,962.9 1614.39,959.5 1615.66,960.4 1616.93,961.5 1618.20,963.3 1619.47,964.9 1620.74,965.8 1622.01,965.1 1623.28,961.7 1624.55,959.9 1625.82,960.2 1627.09,954.2 1628.00,947.3 1628.36,947.4 1629.63,955.9 1630.90,959.6 1632.17,960.8 1633.44,960.5 1634.71,958.2 1635.98,959.3 1637.25,958.8 1638.52,960.3 1639.79,961.4 1641.06,963.2 1642.33,961.6 1643.60,958.9 1644.87,958.6 1646.14,959.3 1647.41,959.9 1648.68,956.7 1649.95,948.6 1650.00,948.0 1651.22,955.6 1652.49,959.9 1653.76,962.1 1655.03,963.0 1656.30,964.7 1657.57,963.1 1658.84,959.6 1660.11,960.3 1661.38,962.2 1662.65,961.0 1663.92,962.4 1665.19,965.0 1666.46,966.1" fill="none" stroke="#00ff00" stroke-width="6.5" stroke-linejoin="round" stroke-linecap="butt" shape-rendering="crispEdges"/>
<polyline points="147.30,814.9 148.57,814.2 149.84,815.3 151.11,814.6 152.38,813.0 153.65,815.7 154.92,816.2 156.19,817.4 157.46,819.3 158.73,817.1 160.00,814.1 161.00,811.3 161.27,816.6 162.54,814.7 163.81,816.0 165.08,816.8 166.35,815.2 167.62,816.6 168.89,817.7 170.16,816.2 171.43,816.3 172.70,817.4 173.97,815.5 175.24,815.9 176.51,819.0 177.78,818.3 179.05,816.1 180.32,818.4 181.59,821.2 182.86,818.2 184.13,819.7 185.40,820.9 186.67,819.9 187.94,820.1 189.21,819.7 190.48,822.7 191.75,823.5 193.02,819.9 194.29,819.4 195.56,820.2 196.83,819.8 198.10,820.4 199.37,819.7 200.64,821.1 201.91,820.9 203.18,821.1 204.45,822.3 205.72,822.6 206.99,820.7 208.26,822.4 209.53,823.4 210.80,822.7 212.07,823.6 213.34,821.1 214.61,820.3 215.88,821.5 217.15,821.5 218.42,823.7 219.69,823.9 220.96,824.4 222.23,820.9 223.50,820.3 224.77,823.0 226.04,821.7 227.31,822.8 228.58,821.7 229.85,822.6 231.12,824.3 232.39,822.5 233.66,820.2 234.93,821.3 236.20,824.0 237.47,824.0 238.74,824.0 240.01,823.4 241.28,823.2 242.55,822.3 243.82,821.4 245.09,823.3 246.36,822.9 247.63,820.2 248.90,822.6 250.17,826.1 251.44,827.1 252.71,823.2 253.98,823.6 255.25,825.5 256.52,825.6 257.79,824.1 259.06,824.7 260.33,824.3 261.60,824.2 262.87,824.1 264.14,825.0 265.41,824.9 266.68,825.5 267.95,826.0 269.22,827.9 270.49,829.2 271.76,826.6 273.03,824.6 274.30,824.9 275.57,824.3 276.84,823.2 278.11,825.1 279.38,826.2 280.65,827.9 281.00,818.5 281.92,828.8 283.19,828.7 284.46,826.7 284.50,833.0 285.73,825.9 287.00,826.6 288.27,828.3 289.54,827.1 290.81,826.3 292.08,826.9 293.35,829.6 294.62,828.4 295.89,827.4 297.16,826.9 298.00,821.7 298.43,827.0 299.70,825.9 300.97,824.0 302.24,824.7 303.51,828.3 304.78,829.6 306.05,827.1 307.32,828.6 308.59,831.3 309.86,834.4 311.13,830.0 312.40,827.6 313.67,828.1 314.94,831.2 316.21,832.4 317.48,831.5 318.75,833.9 320.02,835.0 321.29,831.8 322.56,831.3 323.83,830.6 325.10,829.5 326.37,829.6 327.64,829.7 328.91,828.8 330.18,830.5 331.45,832.0 332.72,830.1 333.99,829.5 335.26,829.8 336.53,831.5 337.80,832.2 339.07,833.1 340.34,831.3 341.61,829.5 342.88,831.7 344.15,832.5 345.42,834.1 346.69,832.9 347.96,827.5 349.23,827.1 350.50,830.5 351.77,830.0 353.04,828.0 354.31,830.7 355.58,834.7 356.85,834.3 358.12,832.0 359.39,833.3 360.66,834.8 361.93,834.3 363.20,835.6 364.47,834.3 365.74,837.0 367.01,837.6 368.28,835.5 369.55,834.1 370.82,833.1 372.09,832.4 373.36,835.0 374.63,836.7 375.90,836.0 377.17,834.7 378.44,833.6 379.71,831.9 380.98,831.2 382.25,831.0 383.52,833.1 384.79,833.0 386.06,834.4 387.33,834.2 388.60,836.7 389.87,838.5 391.14,838.4 392.41,837.1 393.68,834.4 394.95,833.2 396.22,833.0 397.49,835.1 398.76,836.9 400.03,835.0 401.30,837.5 402.57,834.7 403.84,832.5 405.11,834.8 406.38,836.4 407.65,834.4 408.92,833.6 410.19,836.4 411.46,834.7 412.73,835.9 414.00,835.7 415.27,834.5 416.54,834.2 417.81,832.6 419.08,832.5 420.35,834.2 421.62,833.2 422.89,833.8 424.16,837.8 425.43,839.8 426.70,838.8 427.97,837.5 429.24,835.5 430.51,834.8 431.78,832.7 433.05,830.1 434.32,833.6 435.59,836.2 436.86,836.6 438.13,834.6 439.40,836.2 440.67,834.7 441.94,832.9 443.21,834.5 444.48,836.8 445.75,836.3 447.02,835.8 448.29,834.6 449.56,836.2 450.83,837.1 452.10,835.0 453.37,835.0 454.64,833.7 455.91,834.3 457.18,833.5 458.45,835.2 459.72,835.4 460.99,834.0 462.26,835.0 463.53,834.4 464.80,834.8 466.07,834.6 467.34,835.8 468.61,836.0 469.88,838.1 471.15,837.9 472.42,836.5 473.69,833.1 474.96,831.2 476.23,833.9 477.50,837.9 478.77,836.4 480.04,838.1 481.31,838.8 482.58,836.0 483.85,836.0 485.12,838.0 486.39,836.5 487.66,835.1 488.93,835.0 490.20,835.9 491.47,836.7 492.74,838.4 494.01,838.2 495.28,838.5 496.55,838.3 497.82,840.5 499.09,838.0 500.36,835.8 501.63,834.1 502.90,832.6 504.17,833.8 505.44,835.6 506.71,835.3 507.98,836.2 509.25,833.4 510.52,832.6 511.79,835.8 513.06,836.7 514.33,835.4 515.60,838.1 516.87,839.6 518.14,837.5 519.41,835.2 520.68,837.4 521.95,836.7 523.22,836.2 524.49,836.8 525.76,836.3 527.03,838.1 528.30,837.0 529.57,838.2 530.84,839.3 532.11,840.2 533.38,839.0 534.65,838.1 535.92,836.3 537.19,835.5 538.46,835.5 539.73,836.9 541.00,836.6 542.27,838.4 543.54,836.7 544.81,834.1 546.08,835.0 547.35,837.6 548.62,836.7 549.89,836.3 551.16,834.4 552.43,836.4 553.70,838.2 554.97,838.2 556.24,837.6 557.51,834.5 558.78,832.3 560.05,833.3 561.32,837.0 562.59,838.1 563.86,838.0 565.13,836.7 566.40,836.9 567.67,835.0 568.94,835.9 570.21,835.2 571.48,835.9 572.75,838.2 574.02,838.9 575.29,837.4 576.56,837.2 577.83,839.7 579.10,839.6 580.37,837.1 581.64,837.2 582.91,837.6 584.18,839.0 585.45,838.9 586.72,838.3 587.99,837.4 589.26,836.8 590.53,838.4 591.80,836.9 593.07,832.5 594.34,833.6 595.61,834.9 596.88,832.9 598.15,831.0 599.42,830.2 600.69,829.1 601.96,824.7 603.23,821.0 604.50,815.4 605.77,805.1 607.04,794.0 608.20,788.5 608.31,789.4 609.58,794.6 610.85,805.1 612.12,813.5 613.39,822.6 614.66,826.7 615.93,830.3 617.20,834.0 618.47,834.3 619.74,834.0 621.01,835.5 622.28,838.3 623.55,839.5 624.82,838.6 626.09,836.5 627.36,836.7 628.63,838.7 629.90,839.1 631.17,837.0 632.44,836.8 633.71,839.3 634.98,840.6 636.25,838.8 637.52,837.3 638.79,840.3 640.06,839.9 641.33,838.4 642.60,835.0 643.87,835.8 645.14,837.9 646.41,838.6 647.68,836.7 648.95,834.7 650.22,834.7 651.49,837.0 652.76,839.0 654.03,838.5 655.30,835.8 656.57,836.3 657.84,838.5 659.11,840.6 660.38,840.6 661.65,838.9 662.92,836.8 664.19,839.4 665.46,839.5 666.73,838.9 668.00,837.8 669.27,837.9 670.54,838.0 671.81,837.6 673.08,837.5 674.35,839.8 675.62,840.6 676.89,838.3 678.16,836.8 679.43,836.9 680.70,838.5 681.97,841.1 683.24,840.7 684.51,841.4 685.78,837.7 687.05,836.0 688.32,836.5 689.59,837.2 690.86,839.8 692.13,841.8 693.40,839.3 694.67,839.9 695.94,842.7 697.21,844.2 698.48,841.8 699.75,841.6 701.02,842.1 702.29,840.5 703.56,839.9 704.83,838.4 706.10,837.0 707.37,837.8 708.64,840.9 709.91,841.9 711.18,839.6 712.45,837.5 713.72,839.9 714.99,840.2 716.26,841.1 717.53,839.2 718.80,836.6 720.07,836.8 721.34,837.7 722.61,839.3 723.88,835.3 725.15,835.4 726.42,836.1 727.69,834.6 728.96,837.5 730.23,839.6 731.50,840.1 732.77,839.7 734.04,838.5 735.31,838.8 736.58,837.4 737.85,837.1 739.12,837.5 740.39,837.5 741.66,837.4 742.93,835.9 744.20,835.5 745.47,835.2 746.74,835.8 748.01,835.9 749.28,835.1 750.55,837.8 751.82,839.0 753.09,836.4 754.36,833.7 755.63,831.5 756.90,830.7 758.17,830.1 759.44,829.5 760.71,827.1 761.98,824.4 763.25,819.7 764.52,811.8 765.79,799.2 767.06,770.5 768.33,689.5 769.60,507.3 770.87,257.1 771.60,170.5 772.14,169.7 773.41,305.0 774.68,495.6 775.95,662.1 777.22,755.2 778.49,794.8 779.76,811.0 781.03,819.3 782.30,822.4 783.57,824.4 784.84,828.2 786.11,831.8 787.38,831.3 788.65,833.5 789.92,834.6 791.19,833.0 792.46,831.3 793.73,830.1 795.00,831.2 796.27,834.3 797.54,835.7 798.81,834.2 800.08,833.4 801.35,834.8 802.62,838.3 803.89,834.4 805.16,833.0 806.43,836.0 807.70,835.4 808.97,836.7 810.24,836.1 811.51,838.2 812.78,839.3 814.05,836.8 815.32,835.9 816.59,835.5 817.86,837.4 819.13,836.5 820.40,835.4 821.67,837.2 822.94,837.9 824.21,837.2 825.48,836.9 826.75,838.2 828.02,836.5 829.29,835.4 830.56,836.6 831.83,837.9 833.10,836.9 834.37,835.8 835.64,835.1 836.91,835.3 838.18,836.9 839.45,839.7 840.72,836.1 841.70,848.0 841.99,837.1 843.26,835.9 844.53,835.6 845.80,838.7 847.07,841.3 848.34,841.0 849.61,838.9 850.88,837.8 852.15,838.2 853.42,835.7 854.69,836.5 855.96,840.4 857.23,840.3 858.50,839.1 859.77,838.2 861.04,837.5 862.31,837.3 863.58,839.4 864.85,840.3 866.12,839.0 867.39,835.9 868.66,839.8 869.93,842.1 871.20,842.1 872.47,838.4 873.74,834.6 875.01,835.1 876.28,837.8 877.55,841.7 878.82,839.5 880.09,838.8 881.36,841.3 882.63,842.3 883.90,841.8 885.17,840.7 886.44,842.8 887.71,841.5 888.98,839.0 890.25,839.3 891.52,837.3 892.79,836.6 894.06,837.4 895.33,837.4 896.60,838.2 897.87,838.5 899.14,838.6 900.41,839.1 901.68,841.0 902.95,839.2 904.22,838.2 905.49,838.0 906.76,837.9 908.03,838.6 909.30,842.6 910.57,841.6 911.84,841.2 913.11,839.5 914.38,837.4 915.65,837.9 916.92,837.9 918.19,837.5 919.46,840.0 920.73,842.8 922.00,842.0 923.27,842.5 924.54,842.0 925.81,838.6 927.08,841.1 928.35,839.9 929.62,842.1 930.89,841.8 932.16,842.2 933.43,844.4 934.70,842.4 935.97,837.0 937.24,835.0 938.51,836.8 939.78,840.6 941.05,841.3 942.32,841.6 943.59,841.6 944.86,841.4 946.13,837.8 947.40,835.4 948.67,837.3 949.94,839.7 951.21,837.2 952.48,834.6 953.75,837.1 955.02,840.4 956.29,840.5 957.56,839.0 958.83,837.4 960.10,835.7 961.37,838.9 962.64,842.4 963.91,840.9 965.18,841.4 966.45,838.5 967.72,837.8 968.99,838.4 970.26,838.3 971.53,837.1 972.80,840.1 974.07,838.8 975.34,836.1 976.61,839.1 977.88,839.6 979.15,837.6 980.42,838.9 981.69,841.3 982.96,841.7 984.23,840.6 985.50,839.2 986.77,840.6 988.04,843.4 989.31,845.0 990.58,843.2 991.85,842.6 993.12,842.3 994.39,839.7 995.66,836.9 996.93,837.9 998.20,839.6 999.47,840.4 1000.74,839.9 1002.01,838.5 1003.28,838.2 1004.55,838.4 1005.82,837.4 1007.09,836.5 1008.36,835.6 1009.63,837.3 1010.90,838.6 1012.17,837.8 1013.44,838.0 1014.71,838.2 1015.98,836.6 1017.25,836.4 1018.52,836.8 1019.79,838.1 1021.06,837.0 1022.33,836.9 1023.60,836.0 1024.87,840.2 1026.14,840.3 1027.41,837.7 1028.68,838.9 1029.95,841.8 1031.22,839.5 1032.49,836.4 1033.76,837.4 1035.03,838.1 1036.30,839.4 1037.57,838.7 1038.84,836.5 1040.11,838.7 1041.38,841.4 1042.65,842.3 1043.92,841.7 1045.19,843.3 1046.46,843.4 1047.73,842.3 1049.00,841.2 1050.27,836.8 1051.54,840.2 1052.81,842.5 1054.08,840.6 1055.35,840.3 1056.62,838.8 1057.89,838.5 1059.16,838.4 1060.43,837.4 1061.70,837.4 1062.97,836.2 1064.24,838.8 1065.51,843.1 1066.78,844.0 1068.05,841.9 1069.32,842.7 1070.59,840.9 1071.86,837.6 1073.13,837.7 1074.40,839.1 1075.67,839.9 1076.94,840.5 1078.21,838.9 1079.48,839.2 1080.75,841.3 1082.02,841.1 1083.29,840.8 1084.56,840.5 1085.83,841.5 1087.10,841.5 1088.37,839.9 1089.64,841.2 1090.91,840.1 1092.18,840.2 1093.45,840.3 1094.72,841.3 1095.99,841.5 1097.26,841.6 1098.53,841.0 1099.80,840.4 1101.07,840.6 1102.34,840.1 1103.61,838.2 1104.88,837.4 1106.15,840.7 1107.42,842.4 1108.69,839.9 1109.96,840.2 1111.23,839.8 1112.50,840.7 1113.77,842.1 1115.04,841.5 1116.31,839.3 1117.58,836.8 1118.85,838.5 1120.12,840.6 1121.39,842.0 1122.66,840.0 1123.93,839.8 1125.20,841.1 1126.47,842.0 1127.74,839.6 1129.01,840.8 1130.28,840.3 1131.55,838.4 1132.82,837.0 1134.09,838.0 1135.36,840.6 1136.63,839.5 1137.90,838.1 1139.17,839.5 1140.44,842.6 1141.71,843.3 1142.98,842.9 1144.25,842.9 1145.52,842.1 1146.79,839.7 1148.06,838.7 1149.33,841.4 1150.60,841.0 1151.87,840.2 1153.14,839.8 1154.41,841.4 1155.68,842.6 1156.95,840.6 1158.22,840.3 1159.49,840.8 1160.76,841.4 1162.03,840.7 1163.30,840.0 1164.57,839.3 1165.84,839.5 1167.11,839.4 1168.38,840.9 1169.65,841.3 1170.92,842.5 1172.19,839.8 1173.46,838.5 1174.73,841.2 1176.00,841.3 1177.27,839.7 1178.54,843.5 1179.81,842.3 1181.08,841.8 1182.35,840.7 1183.62,841.6 1184.89,842.3 1186.16,840.4 1187.43,840.9 1188.70,842.8 1189.97,844.7 1191.24,844.0 1192.51,843.6 1193.78,842.5 1195.05,842.1 1196.32,841.5 1197.59,839.3 1198.86,836.1 1200.13,836.1 1201.40,839.5 1202.67,840.9 1203.94,840.0 1205.21,838.5 1206.48,837.7 1207.75,837.5 1209.02,839.6 1210.29,838.0 1211.56,840.5 1212.83,840.7 1214.10,843.1 1215.37,841.3 1216.64,838.7 1217.91,838.4 1219.18,838.5 1220.45,840.5 1221.72,839.4 1222.99,838.1 1224.26,836.9 1225.53,837.4 1226.80,835.3 1228.07,836.0 1229.34,838.0 1230.61,834.9 1231.88,836.8 1233.15,839.2 1234.42,838.7 1235.69,840.0 1236.96,840.0 1238.23,837.5 1239.50,833.8 1240.77,834.1 1242.04,835.6 1243.31,837.3 1244.58,836.2 1245.85,834.5 1247.12,833.0 1248.39,834.1 1249.66,834.1 1250.93,831.0 1252.20,833.0 1253.47,834.8 1254.74,833.9 1256.01,833.2 1257.28,832.9 1258.55,834.0 1259.82,833.1 1261.09,834.0 1262.36,832.3 1263.63,828.2 1264.90,828.8 1266.17,830.1 1267.44,830.0 1268.71,827.9 1269.98,826.0 1271.25,825.4 1272.52,823.2 1273.79,817.2 1275.06,813.8 1276.33,810.6 1277.60,802.3 1278.87,789.6 1280.14,769.2 1281.41,729.9 1282.68,660.6 1283.95,554.3 1285.22,421.4 1286.49,315.3 1286.80,303.0 1287.76,306.7 1289.03,376.6 1290.30,475.9 1291.57,582.7 1292.84,672.2 1294.11,733.2 1295.38,769.6 1296.65,790.6 1297.92,803.1 1299.19,809.5 1300.46,814.0 1301.73,819.2 1303.00,823.1 1304.27,826.2 1305.54,825.1 1306.81,826.1 1308.08,827.7 1309.35,832.1 1310.62,831.7 1311.89,831.3 1313.16,828.4 1314.43,829.7 1315.70,833.3 1316.97,833.0 1318.24,832.8 1319.51,834.9 1320.78,835.2 1322.05,835.2 1323.32,835.3 1324.59,835.3 1325.86,838.1 1327.13,838.3 1328.40,836.1 1329.67,834.3 1330.94,832.2 1332.21,833.6 1333.48,837.0 1334.75,835.2 1336.02,835.9 1337.29,839.6 1338.56,839.9 1339.83,838.5 1341.10,837.8 1342.37,836.9 1343.64,837.2 1344.91,838.0 1346.18,839.9 1347.45,839.3 1348.72,837.5 1349.99,839.8 1351.26,840.6 1352.53,840.8 1353.80,841.1 1355.07,840.2 1356.34,839.5 1357.61,840.9 1358.88,840.8 1360.15,838.5 1361.42,837.9 1362.69,838.8 1363.96,839.3 1365.23,838.0 1366.50,836.6 1367.77,839.0 1369.04,837.5 1370.31,835.7 1371.58,836.2 1372.85,837.8 1374.12,837.0 1375.39,833.8 1376.66,833.5 1377.93,834.3 1379.20,836.1 1380.47,837.9 1381.74,838.6 1383.01,841.8 1384.28,842.2 1385.55,842.2 1386.82,840.5 1388.09,837.5 1389.36,838.0 1390.63,836.3 1391.90,836.4 1393.17,838.6 1394.44,839.5 1395.71,840.1 1396.98,839.7 1398.25,841.2 1399.52,841.5 1400.79,840.1 1402.06,838.1 1403.33,838.4 1404.60,842.0 1405.87,844.6 1407.14,840.8 1408.41,839.0 1409.68,836.9 1410.95,835.1 1412.22,838.7 1413.49,840.4 1414.76,840.4 1416.03,838.5 1417.30,838.3 1418.57,840.8 1419.84,839.3 1421.11,840.4 1422.38,841.5 1423.65,839.9 1424.92,838.6 1426.19,838.5 1427.46,836.5 1428.73,837.4 1430.00,837.8 1431.27,836.7 1432.54,838.3 1433.81,841.7 1435.08,843.3 1436.35,839.5 1437.62,839.6 1438.89,840.2 1440.16,839.0 1441.43,838.6 1442.70,840.2 1443.97,840.3 1445.24,838.4 1446.51,840.9 1447.78,840.3 1449.05,839.4 1450.32,839.2 1451.59,840.5 1452.86,838.0 1454.13,837.9 1455.40,838.9 1456.67,838.0 1457.94,838.8 1459.21,840.8 1460.48,841.9 1461.75,840.0 1463.02,839.1 1464.29,840.2 1465.56,839.8 1466.83,838.6 1468.10,840.3 1469.37,839.5 1470.64,838.7 1471.91,841.1 1473.18,841.2 1474.45,839.4 1475.72,840.2 1476.99,839.0 1478.26,838.1 1479.53,838.4 1480.80,840.6 1482.07,840.7 1483.34,840.4 1484.61,838.1 1485.88,837.7 1487.15,836.7 1488.42,837.6 1489.69,838.8 1490.96,838.8 1492.23,837.9 1493.50,840.0 1494.77,838.7 1496.04,841.0 1497.31,841.3 1498.58,841.4 1499.85,839.4 1501.12,840.1 1502.39,842.4 1503.66,844.6 1504.93,843.6 1506.20,844.0 1507.47,843.1 1508.74,843.3 1510.01,841.8 1511.28,841.5 1512.55,841.9 1513.82,838.8 1515.09,837.6 1516.36,841.2 1517.63,845.4 1518.90,845.2 1520.17,842.9 1521.44,842.6 1522.71,842.4 1523.98,842.9 1525.25,843.5 1526.52,840.0 1527.79,837.8 1529.06,837.0 1530.33,839.1 1531.60,842.5 1532.87,841.6 1534.14,839.1 1535.41,839.4 1536.68,840.9 1537.95,843.2 1539.22,843.4 1540.49,843.4 1541.76,844.4 1543.03,844.1 1544.30,843.7 1545.57,841.0 1546.84,839.7 1548.11,841.6 1549.38,844.5 1550.65,841.6 1551.92,841.6 1553.19,842.2 1554.46,839.9 1555.73,839.8 1557.00,843.8 1558.27,842.3 1559.54,840.7 1560.81,841.4 1562.08,840.6 1563.35,837.7 1564.62,836.6 1565.89,838.5 1567.16,838.8 1568.43,839.1 1569.70,839.4 1570.97,843.7 1572.24,843.5 1573.51,843.4 1574.78,840.4 1576.05,839.1 1577.32,838.8 1578.59,839.6 1579.86,840.0 1581.13,838.4 1582.40,836.9 1583.67,837.2 1584.94,838.6 1586.21,839.4 1587.48,836.5 1588.75,836.5 1590.02,839.2 1591.29,840.7 1592.56,838.7 1593.83,838.3 1595.10,837.8 1596.37,837.4 1597.64,837.5 1598.91,836.7 1600.18,836.6 1601.45,837.6 1602.72,839.9 1603.99,839.4 1604.70,844.3 1605.26,838.6 1606.53,837.3 1607.80,836.3 1609.07,837.9 1610.34,840.6 1611.61,840.6 1612.88,838.1 1614.15,840.9 1615.42,840.0 1616.69,839.1 1617.96,839.5 1619.23,837.9 1620.50,836.1 1621.77,836.8 1623.04,837.8 1624.31,840.3 1625.58,837.8 1626.85,834.5 1628.12,838.3 1629.39,839.2 1630.66,837.0 1631.93,835.9 1633.20,841.3 1634.47,839.0 1635.74,836.5 1637.01,836.3 1638.28,837.2 1639.55,837.5 1640.82,838.1 1642.09,838.5 1643.36,838.3 1644.63,838.8 1645.90,837.0 1647.17,838.5 1648.44,838.7 1649.71,838.2 1650.98,838.8 1652.25,838.5 1653.52,837.8 1654.79,836.5 1656.06,835.0 1657.33,833.8 1658.60,834.0 1659.87,835.8 1661.14,838.1 1662.41,837.7 1663.68,837.0 1664.95,835.0 1666.22,834.2 1667.49,837.5 1668.76,840.7 1670.03,837.9 1671.30,838.3 1672.57,836.4" fill="none" stroke="#0000ff" stroke-width="6.5" stroke-linejoin="round" stroke-linecap="butt" shape-rendering="crispEdges"/>
<polyline points="148.90,693.1 150.17,692.3 151.44,692.2 152.71,693.4 153.98,693.4 155.25,692.5 156.52,690.8 157.79,689.9 159.06,691.2 160.33,691.4 161.60,692.5 162.87,692.1 164.14,690.9 165.41,692.0 166.68,693.0 167.95,692.3 169.22,691.1 170.49,692.0 171.76,693.0 173.03,693.8 174.30,693.3 175.57,691.2 176.84,691.2 178.11,692.1 179.38,690.6 180.65,692.1 181.92,691.6 183.19,692.1 184.46,694.3 185.73,693.3 187.00,692.4 188.27,692.9 189.54,692.6 190.81,692.1 192.08,693.8 193.35,696.5 194.62,695.9 195.89,694.5 197.16,694.2 198.43,694.8 199.70,694.3 200.97,692.7 202.24,693.6 203.51,694.5 204.78,695.9 206.05,694.8 207.32,694.8 208.59,692.9 209.86,693.2 211.13,692.6 212.40,692.5 213.67,694.0 214.94,692.9 216.21,692.9 217.48,693.1 218.75,694.3 220.02,693.9 221.29,691.6 222.56,693.7 223.83,694.7 225.10,697.3 226.37,697.3 227.64,695.5 228.91,692.6 230.18,695.7 231.45,695.2 232.72,693.2 233.99,695.0 235.26,696.2 236.53,694.0 237.80,695.4 239.07,695.0 240.34,694.0 241.61,693.9 242.88,693.9 244.15,695.2 245.42,696.2 246.69,697.6 247.96,697.9 249.23,696.4 250.50,696.4 251.77,694.9 253.04,695.3 254.31,694.2 255.58,694.4 256.85,695.8 258.12,695.2 259.39,695.3 260.66,693.7 261.93,694.1 263.20,696.6 264.47,697.7 265.74,695.7 267.01,697.4 268.28,698.0 269.55,699.0 270.82,696.6 272.09,695.2 273.36,695.6 274.63,694.6 275.90,695.4 277.17,696.4 278.44,697.9 279.71,696.7 280.98,694.0 282.25,693.0 283.52,693.0 284.79,691.8 286.06,692.7 287.33,697.3 288.60,696.7 289.87,697.2 291.14,695.7 292.41,694.5 293.68,694.1 294.95,696.8 296.22,697.1 297.49,698.1 298.76,696.8 300.03,698.3 301.30,698.5 302.57,695.4 303.84,695.7 305.11,694.7 306.38,694.2 307.65,696.2 308.92,698.1 310.19,698.7 311.46,697.2 312.73,697.9 314.00,697.8 315.27,696.5 316.54,695.3 317.81,697.4 319.08,701.1 320.35,697.4 321.62,695.6 322.89,695.8 324.16,698.7 325.43,700.6 326.70,700.5 327.97,700.3 329.24,698.5 330.51,698.8 331.78,697.3 333.05,699.1 334.32,699.5 335.59,697.3 336.86,697.3 338.13,695.3 339.40,693.7 340.67,693.5 341.94,694.0 343.21,694.5 344.48,696.7 345.75,699.1 347.02,697.3 348.29,696.0 349.56,697.3 350.83,697.1 352.10,697.2 353.37,697.8 354.64,697.6 355.91,696.3 357.18,696.7 358.45,698.1 359.72,697.1 360.99,696.7 362.26,697.6 363.53,697.8 364.80,697.2 366.07,697.7 367.34,696.9 368.61,695.5 369.88,696.9 371.15,697.5 372.42,701.0 373.69,699.3 374.96,697.4 376.23,698.7 377.50,700.3 378.77,700.3 380.04,699.0 381.31,699.1 382.58,698.8 383.85,697.0 385.12,695.0 386.39,695.1 387.66,693.0 388.93,694.8 390.20,698.4 391.47,698.1 392.74,696.8 394.01,695.4 395.28,695.0 396.55,694.9 397.82,693.7 399.09,693.4 400.36,697.7 401.63,699.6 402.90,697.5 404.17,697.2 405.44,695.8 406.71,696.2 407.98,695.6 409.25,697.4 410.52,697.0 411.79,695.5 413.06,697.6 414.33,699.6 415.60,698.0 416.87,696.9 418.14,697.0 419.41,697.6 420.68,699.3 421.95,698.7 423.22,695.3 424.49,697.3 425.76,698.0 427.03,699.4 428.30,699.0 429.57,698.4 430.84,696.2 432.11,694.8 433.38,696.8 434.65,698.6 435.92,698.8 437.19,698.6 438.46,698.0 439.73,697.7 441.00,696.0 442.27,695.5 443.54,694.5 444.81,695.6 446.08,696.3 447.35,697.1 448.62,698.3 449.89,696.3 451.16,693.3 452.43,697.0 453.70,698.1 454.97,697.7 456.24,696.5 457.51,698.1 458.78,698.8 460.05,695.9 461.32,697.1 462.59,695.8 463.86,695.1 465.13,697.1 466.40,698.9 467.67,695.2 468.94,694.8 470.21,696.6 471.48,697.6 472.75,697.1 474.02,696.8 475.29,695.8 476.56,697.5 477.83,698.0 479.10,695.4 480.37,694.9 481.64,696.7 482.91,697.4 484.18,696.9 485.45,694.9 486.72,694.9 487.99,696.0 489.26,697.9 490.53,696.8 491.80,695.2 493.07,694.7 494.34,696.2 495.61,697.3 496.88,694.9 498.15,695.7 499.42,697.8 500.69,699.7 501.96,699.0 503.23,698.6 504.50,696.5 505.77,693.6 507.04,692.9 508.31,694.1 509.58,695.6 510.85,695.5 512.12,695.9 513.39,697.2 514.66,693.3 515.93,694.0 517.20,698.7 518.47,697.5 519.74,694.7 521.01,694.2 522.28,696.5 523.55,697.6 524.82,696.8 526.09,694.5 527.36,695.0 528.63,695.6 529.90,695.5 531.17,693.9 532.44,696.1 533.71,697.5 534.98,695.0 536.25,696.7 537.52,698.8 538.79,697.8 540.06,696.1 541.33,695.4 542.60,694.8 543.87,694.9 545.14,694.0 546.41,694.4 547.68,693.5 548.95,693.3 550.22,695.7 551.49,694.2 552.76,695.7 554.03,693.5 555.30,695.2 556.57,695.2 557.84,692.7 559.11,692.9 560.38,692.8 561.65,693.3 562.92,695.0 564.19,693.0 565.46,691.9 566.73,695.3 568.00,696.0 569.27,694.9 570.54,694.6 571.81,695.6 573.08,695.5 574.35,694.4 575.62,694.0 576.89,696.2 578.16,697.3 579.43,697.2 580.70,698.9 581.97,696.4 583.24,695.2 584.51,696.3 585.78,695.3 587.05,694.1 588.32,693.3 589.59,693.0 590.86,690.7 592.13,690.3 593.40,689.6 594.67,688.9 595.94,691.2 597.21,690.2 598.48,688.4 599.75,687.2 601.02,684.3 602.29,680.3 603.56,669.9 604.83,646.8 606.10,606.0 607.37,557.1 608.00,542.9 608.64,542.0 609.91,566.8 611.18,605.6 612.45,642.7 613.72,666.3 614.99,679.1 616.26,685.1 617.53,688.1 618.80,690.0 620.07,688.4 621.34,688.2 622.61,689.4 623.88,690.9 625.15,690.0 626.42,691.6 627.69,695.0 628.96,696.2 630.23,696.1 631.50,693.3 632.77,692.0 634.04,693.1 635.31,692.6 636.58,693.2 637.85,694.0 639.12,695.4 640.39,697.1 641.66,697.5 642.93,696.4 644.20,694.8 645.47,694.9 646.74,693.7 648.01,692.1 649.28,691.3 650.55,692.7 651.82,694.9 653.09,695.7 654.36,695.1 655.63,695.1 656.90,694.7 658.17,696.5 659.44,695.5 660.71,694.4 661.98,695.1 663.25,694.8 664.52,695.4 665.79,696.4 667.06,694.1 668.33,693.5 669.60,694.0 670.87,695.2 672.14,697.6 673.41,697.5 674.68,695.9 675.95,691.9 677.22,693.8 678.49,695.3 679.76,695.5 681.03,694.6 682.30,693.9 683.57,695.0 684.84,694.6 686.11,694.1 687.38,693.5 688.65,694.0 689.92,695.3 691.19,695.8 692.46,694.9 693.73,694.4 695.00,694.4 696.27,695.2 697.54,694.1 698.81,693.6 700.08,694.0 701.35,693.8 702.62,695.0 703.89,696.7 705.16,695.8 706.43,696.7 707.70,696.5 708.97,695.3 710.24,695.8 711.51,696.2 712.78,694.1 714.05,695.0 715.32,695.9 716.59,694.3 717.86,695.7 719.13,695.3 720.40,693.3 721.67,693.4 722.94,691.5 724.21,690.5 725.48,690.8 726.75,692.8 728.02,692.8 729.29,692.0 730.56,692.1 731.83,692.7 733.10,692.5 734.37,692.3 735.64,692.6 736.91,691.5 738.18,692.1 739.45,694.2 740.72,693.2 741.99,690.9 743.26,693.2 744.53,692.6 745.80,694.0 747.07,693.3 748.34,692.3 749.61,688.9 750.88,688.3 752.15,688.6 753.42,688.1 754.69,687.1 755.96,686.2 757.23,685.0 758.50,682.1 759.77,678.1 761.04,671.6 762.31,661.7 763.58,653.4 764.50,648.7 764.85,647.8 766.12,641.9 767.39,619.5 768.66,550.9 769.93,419.3 771.20,301.5 771.30,298.0 772.47,330.1 773.74,433.0 775.01,544.1 776.28,620.5 777.55,657.8 778.82,673.1 780.09,678.8 781.36,682.4 782.63,683.4 783.90,684.7 785.17,687.7 786.44,688.4 787.71,688.3 788.98,690.2 790.25,691.6 791.52,691.8 792.79,692.8 794.06,690.9 795.33,690.5 796.60,692.1 797.87,691.2 799.14,691.6 800.41,689.7 801.68,689.6 802.95,691.1 804.00,699.5 804.22,693.7 805.49,691.8 806.76,691.8 808.03,692.5 809.30,692.8 810.57,693.7 811.84,692.1 813.11,691.0 814.38,691.1 815.65,693.2 816.92,693.5 818.19,693.1 819.46,692.5 820.73,691.3 822.00,692.7 823.27,693.8 824.54,694.9 825.81,693.7 827.08,691.6 828.35,692.3 829.62,694.3 830.89,691.4 832.16,690.0 833.43,692.5 834.70,694.6 835.97,693.0 837.24,691.8 838.51,694.5 839.78,693.0 841.05,693.8 842.32,695.0 843.59,693.7 844.86,693.9 846.13,694.3 847.40,691.8 848.67,693.2 849.94,694.9 851.21,694.7 852.48,692.8 853.75,692.6 855.02,691.7 856.29,691.0 857.56,691.2 858.83,693.0 860.10,693.7 861.37,693.5 862.64,689.8 863.91,690.3 865.18,693.4 866.45,695.2 867.72,692.3 868.99,689.9 870.26,691.1 871.53,692.9 872.80,694.7 874.07,695.5 875.34,694.9 876.61,694.5 877.88,695.9 879.15,693.7 880.42,693.3 881.69,694.0 882.96,693.1 884.23,693.2 885.50,693.9 886.77,692.7 888.04,692.8 889.31,694.3 890.58,697.1 891.85,696.1 893.12,693.8 894.39,694.1 895.66,693.1 896.93,693.3 898.20,692.3 899.47,694.0 900.74,693.7 902.01,692.4 903.28,694.2 904.55,695.7 905.82,695.3 907.09,694.1 908.36,692.7 909.63,693.6 910.90,691.4 912.17,692.8 913.44,695.9 914.71,692.7 915.98,690.5 917.25,691.9 918.52,694.0 919.79,694.6 921.06,695.5 922.33,694.4 923.60,693.1 924.87,694.5 926.14,694.1 927.41,695.3 928.68,696.6 929.95,696.2 931.22,695.8 932.49,693.1 933.76,692.9 935.03,693.6 936.30,693.2 937.57,695.8 938.84,696.8 940.11,695.8 941.38,695.3 942.65,693.9 943.92,692.4 945.19,692.6 946.46,693.5 947.73,694.3 949.00,694.2 950.27,693.9 950.50,697.5 951.54,692.4 952.81,694.2 954.08,694.8 955.35,692.5 956.62,693.8 957.89,695.1 959.16,694.3 960.43,693.8 961.70,693.3 962.97,693.3 964.24,692.6 965.51,692.0 966.78,694.8 968.05,694.7 969.32,693.7 970.59,695.0 971.86,694.2 973.13,693.6 974.40,691.3 975.67,692.1 976.94,695.1 978.21,696.8 979.48,697.5 980.75,697.2 982.02,696.4 983.29,692.8 984.56,689.9 985.83,689.0 987.10,691.7 988.37,693.3 989.64,695.0 990.91,694.3 992.18,694.5 993.45,692.5 994.72,694.4 995.99,694.4 997.26,695.2 998.53,694.7 999.80,692.6 1001.07,693.3 1002.34,692.9 1003.61,694.0 1004.88,694.4 1006.15,693.8 1007.42,692.9 1008.69,692.5 1009.96,691.9 1011.23,690.0 1012.50,692.9 1013.77,693.5 1015.04,692.9 1016.31,692.0 1017.58,692.8 1018.85,693.2 1020.12,694.5 1021.39,692.6 1022.66,693.8 1023.93,692.9 1025.20,693.1 1026.47,692.6 1027.74,690.9 1029.01,690.0 1030.28,692.3 1031.55,691.1 1032.82,692.1 1034.09,695.3 1035.36,696.1 1036.63,693.9 1037.90,691.2 1039.17,692.2 1040.44,693.0 1041.71,692.9 1042.98,694.9 1044.25,694.7 1045.52,694.0 1046.79,693.0 1048.06,691.1 1049.33,691.0 1050.60,692.0 1051.87,694.5 1053.14,694.4 1054.41,694.3 1055.68,694.4 1056.95,694.8 1058.22,696.2 1059.49,695.6 1060.76,694.3 1062.03,694.1 1063.30,694.5 1064.57,692.0 1065.84,693.6 1067.11,693.2 1068.38,693.2 1069.65,692.8 1070.92,692.6 1072.19,691.0 1073.46,687.0 1074.73,688.5 1076.00,690.1 1077.27,689.4 1078.54,689.2 1079.81,691.5 1081.08,691.3 1082.35,692.3 1083.62,693.6 1084.89,691.4 1086.16,691.8 1087.43,693.5 1088.70,692.2 1089.97,690.5 1091.24,689.3 1092.51,692.4 1093.78,691.8 1095.05,690.2 1096.32,692.0 1097.59,691.6 1098.86,691.1 1100.13,691.0 1101.40,692.6 1102.67,692.9 1103.94,691.6 1105.21,692.2 1106.48,694.1 1107.75,692.9 1109.02,692.0 1110.29,693.4 1111.56,692.0 1112.83,691.3 1114.10,690.0 1115.37,689.9 1116.64,691.0 1117.91,693.0 1119.18,693.9 1120.45,692.6 1121.72,693.1 1122.99,693.0 1124.26,693.0 1125.53,691.9 1126.80,692.3 1128.07,692.6 1129.34,693.7 1130.61,696.4 1131.88,695.2 1133.15,695.4 1134.42,694.5 1135.69,691.6 1136.96,692.9 1138.23,694.0 1139.50,691.1 1140.77,692.3 1142.04,697.4 1143.31,695.1 1144.58,692.7 1145.85,692.6 1147.12,692.1 1148.39,693.0 1149.66,693.5 1150.93,693.6 1152.20,695.8 1153.47,696.9 1154.74,695.5 1156.01,692.6 1157.28,691.4 1158.55,691.1 1159.82,692.6 1161.09,692.4 1162.36,691.7 1163.63,691.8 1164.90,693.0 1166.17,692.9 1167.44,692.1 1168.71,694.4 1169.98,693.5 1171.25,691.5 1172.52,692.9 1173.79,692.9 1175.06,695.5 1176.33,696.1 1177.60,695.4 1178.87,696.1 1180.14,693.1 1181.41,692.6 1182.68,692.1 1183.95,690.7 1185.22,690.7 1186.49,693.3 1187.76,692.5 1189.03,691.0 1190.30,692.5 1191.57,696.6 1192.84,694.2 1194.11,691.5 1195.38,692.2 1196.65,693.9 1197.92,692.9 1199.19,692.0 1200.46,691.9 1201.73,691.4 1203.00,692.1 1204.27,693.8 1205.54,692.5 1206.81,690.6 1208.08,688.1 1209.35,691.6 1210.62,693.6 1211.89,691.8 1213.16,691.5 1214.43,690.5 1215.70,691.4 1216.97,691.2 1218.24,689.0 1219.51,692.0 1220.78,693.7 1222.05,691.4 1223.32,689.5 1224.59,690.3 1225.86,691.1 1227.13,692.1 1228.40,691.3 1229.67,691.0 1230.94,692.3 1232.21,692.2 1233.48,690.8 1234.75,689.3 1236.02,688.6 1237.29,688.5 1238.56,688.5 1239.83,689.6 1241.10,691.3 1242.37,690.0 1243.64,688.4 1244.91,687.0 1246.18,689.5 1247.45,689.6 1248.72,690.0 1249.99,689.8 1251.26,688.4 1252.53,688.3 1253.80,686.3 1255.07,686.9 1256.34,689.2 1257.61,687.5 1258.88,687.5 1260.15,687.1 1261.42,686.3 1262.69,687.9 1263.96,686.9 1265.23,687.1 1266.50,687.3 1267.77,683.3 1269.04,682.4 1270.31,682.3 1271.58,679.6 1272.85,676.6 1274.12,671.7 1275.39,666.2 1276.50,662.7 1276.66,661.5 1277.93,659.4 1279.20,657.7 1280.47,651.8 1281.74,636.2 1283.01,607.1 1284.28,562.4 1285.55,510.3 1286.80,477.2 1286.82,477.0 1288.09,484.1 1289.36,516.0 1290.63,556.8 1291.90,598.4 1293.17,630.3 1294.44,651.4 1295.71,664.2 1296.98,671.9 1298.25,675.1 1299.52,677.6 1300.79,679.9 1302.06,681.7 1303.33,683.3 1304.60,685.2 1305.87,686.2 1307.14,685.4 1308.41,685.6 1309.68,686.6 1310.95,687.3 1312.22,687.4 1313.49,688.2 1314.76,688.7 1316.03,688.9 1317.30,687.8 1318.57,687.9 1319.84,687.0 1321.11,685.4 1322.38,686.7 1323.65,688.4 1324.92,688.0 1326.19,687.7 1327.46,690.1 1328.73,691.8 1330.00,691.5 1331.27,690.5 1332.54,688.5 1333.81,690.5 1335.08,693.1 1336.35,693.0 1337.62,691.6 1338.89,691.8 1340.16,690.5 1341.43,690.0 1342.70,691.1 1343.97,691.2 1345.24,689.9 1346.51,690.5 1347.78,691.9 1349.05,690.9 1350.32,691.0 1351.59,691.8 1352.86,692.5 1354.13,691.6 1355.40,691.8 1356.67,692.6 1357.94,690.8 1359.21,689.3 1360.48,688.9 1361.75,690.9 1363.02,690.5 1364.29,689.2 1365.56,687.9 1366.83,688.9 1368.10,689.2 1369.37,689.8 1370.64,690.4 1371.91,691.5 1373.18,692.9 1374.45,690.5 1375.72,690.1 1376.99,690.1 1378.26,690.4 1379.53,691.5 1380.80,692.5 1382.07,691.9 1383.34,691.8 1384.61,692.3 1385.88,691.6 1387.15,690.7 1388.42,691.0 1389.69,690.7 1390.96,689.4 1392.23,691.4 1393.50,692.2 1394.77,692.5 1396.04,691.5 1397.31,689.5 1398.58,689.6 1399.85,690.4 1401.12,690.1 1402.39,691.8 1403.66,691.0 1404.93,693.1 1406.20,692.9 1407.47,691.9 1408.74,690.0 1410.01,690.1 1411.28,691.2 1412.55,693.9 1413.82,695.7 1415.09,694.2 1416.36,689.3 1417.63,689.6 1418.90,689.7 1420.17,690.4 1421.44,690.1 1422.71,688.5 1423.98,689.1 1425.25,691.6 1426.52,691.4 1427.79,690.6 1429.06,690.9 1430.33,690.3 1431.60,691.6 1432.87,691.7 1434.14,692.0 1435.41,689.5 1436.68,690.6 1437.95,690.5 1439.22,689.0 1440.49,689.3 1441.76,691.2 1443.03,692.2 1444.30,691.2 1445.57,690.8 1446.84,690.5 1448.11,691.3 1449.38,694.1 1450.65,694.3 1451.92,694.0 1453.19,692.1 1454.46,691.8 1455.73,692.0 1457.00,693.0 1458.27,693.2 1459.54,694.0 1460.81,692.6 1462.08,690.8 1463.35,689.7 1464.62,690.4 1465.89,691.9 1467.16,691.3 1468.43,691.6 1469.70,693.1 1470.97,693.2 1472.24,690.6 1473.51,690.0 1474.78,689.6 1476.05,690.8 1477.32,691.4 1478.59,691.1 1479.86,689.5 1481.13,689.3 1482.40,689.0 1483.67,690.9 1484.94,690.7 1486.21,690.2 1487.48,691.5 1488.75,692.1 1490.02,691.0 1491.29,691.1 1492.56,691.5 1493.83,690.6 1495.10,689.5 1496.37,690.0 1497.64,691.8 1498.91,691.4 1500.18,689.6 1501.45,690.0 1502.72,691.6 1503.99,691.0 1505.26,689.4 1506.53,688.9 1507.80,691.0 1509.07,693.0 1510.34,691.1 1511.61,689.1 1512.88,689.2 1514.15,690.5 1515.42,688.1 1516.69,688.5 1517.96,689.6 1519.23,690.1 1520.50,692.6 1521.77,691.6 1523.04,690.8 1524.31,691.4 1525.58,689.8 1526.85,687.6 1528.12,688.9 1529.39,688.9 1530.66,689.1 1531.93,690.6 1533.20,689.1 1534.47,689.1 1535.74,689.6 1537.01,690.6 1538.28,692.0 1539.55,689.3 1540.82,689.2 1542.09,690.6 1543.36,689.6 1544.63,688.0 1545.90,688.4 1547.17,689.7 1548.44,688.6 1549.71,691.2 1550.98,692.3 1552.25,690.3 1553.52,689.7 1554.79,689.6 1556.06,688.9 1557.33,688.3 1558.60,685.6 1559.87,685.0 1561.14,686.3 1562.41,687.5 1563.68,689.2 1564.95,689.7 1566.22,690.0 1567.49,689.3 1568.76,689.0 1570.03,689.1 1571.30,687.6 1572.57,686.9 1573.84,686.8 1575.11,686.3 1576.38,687.1 1577.65,687.6 1578.92,686.8 1580.19,686.7 1581.46,687.8 1582.73,690.3 1584.00,690.8 1585.27,688.8 1586.54,689.5 1587.81,688.6 1589.08,687.0 1590.35,687.2 1591.62,686.9 1592.89,686.2 1594.16,685.8 1595.43,686.6 1596.70,685.2 1597.97,685.4 1599.24,687.1 1600.51,687.4 1601.78,683.9 1603.05,681.2 1604.32,679.9 1605.50,678.8 1605.59,678.9 1606.86,677.0 1608.13,680.0 1609.40,682.4 1610.67,685.4 1611.94,688.2 1613.21,687.9 1614.48,687.3 1615.75,687.8 1617.02,687.8 1618.29,688.1 1619.56,687.8 1620.83,686.9 1622.10,686.7 1623.37,688.6 1624.64,688.2 1625.91,686.5 1627.18,686.6 1628.45,688.0 1629.72,688.0 1630.99,689.3 1632.26,691.9 1633.53,694.2 1634.80,692.2 1636.07,691.1 1637.34,687.9 1638.61,687.7 1639.88,689.4 1641.15,689.5 1642.42,688.0 1643.69,690.0 1644.96,690.7 1646.23,690.3 1647.50,689.9 1648.77,689.2 1650.04,690.3 1651.31,689.8 1652.58,689.0 1653.85,689.1 1655.12,687.8 1656.39,687.7 1657.66,688.2 1658.93,688.8 1660.20,688.6 1661.47,688.4 1662.74,686.7 1664.01,686.6 1665.28,688.5 1666.55,688.6 1667.82,687.8 1669.09,688.7 1670.36,689.6 1671.63,690.2" fill="none" stroke="#ff00ff" stroke-width="6.5" stroke-linejoin="round" stroke-linecap="butt" shape-rendering="crispEdges"/>
<text x="667.3" y="61.7" font-size="48.8" textLength="215.6" lengthAdjust="spacingAndGlyphs">Steel plate</text>
<text x="725.5" y="118.6" font-size="48.8" textLength="101.9" lengthAdjust="spacingAndGlyphs">(110)</text>
<text x="1168.4" y="180.4" font-size="48.8" textLength="214.5" lengthAdjust="spacingAndGlyphs">Steel plate</text>
<text x="1225.5" y="237.5" font-size="48.8" textLength="103.0" lengthAdjust="spacingAndGlyphs">(200)</text>
<text x="580.4" y="447.8" font-size="48.8" textLength="61.4" lengthAdjust="spacingAndGlyphs">Ag</text>
<text x="560.5" y="504.3" font-size="48.8" textLength="101.9" lengthAdjust="spacingAndGlyphs">(111)</text>
<text x="665.0" y="547.4" font-size="48.8" textLength="61.6" lengthAdjust="spacingAndGlyphs">Ag</text>
<text x="644.5" y="603.4" font-size="48.8" textLength="101.9" lengthAdjust="spacingAndGlyphs">(200)</text>
<text x="1113.0" y="492.7" font-size="48.8" textLength="62.0" lengthAdjust="spacingAndGlyphs">Ag</text>
<text x="1092.7" y="549.8" font-size="48.8" textLength="102.3" lengthAdjust="spacingAndGlyphs">(220)</text>
<text x="1615.1" y="491.7" font-size="48.8" textLength="62.1" lengthAdjust="spacingAndGlyphs">Ag</text>
<text x="1594.8" y="547.6" font-size="48.8" textLength="101.0" lengthAdjust="spacingAndGlyphs">(311)</text>
<text x="193.2" y="655.9" font-size="49.6" textLength="206.8" lengthAdjust="spacingAndGlyphs" font-weight="bold">AgPs 0.17</text>
<text x="193.2" y="778.7" font-size="49.6" textLength="205.5" lengthAdjust="spacingAndGlyphs" font-weight="bold">AgPs 0.06</text>
<text x="192.8" y="914.8" font-size="49.6" textLength="206.4" lengthAdjust="spacingAndGlyphs" font-weight="bold">AgPs 0.04</text>
<text x="191.8" y="1021.7" font-size="49.6" textLength="205.5" lengthAdjust="spacingAndGlyphs" font-weight="bold">AgPs 0.03</text>
<text x="818.8" y="1232.2" font-size="57.7" textLength="285.6" lengthAdjust="spacingAndGlyphs">2<tspan font-style="italic">&#920;</tspan>/degrees</text>
<text transform="translate(-532.9,1104.8) rotate(-90)" x="198.0" y="600.0" font-size="60.5" textLength="330.9" lengthAdjust="spacingAndGlyphs">Intensity/a.u.</text>
<text class="s" x="128.0" y="1200.0" font-size="44.0" textLength="47.0" lengthAdjust="spacingAndGlyphs">20</text>
<text class="s" x="636.8" y="1200.0" font-size="44.0" textLength="47.1" lengthAdjust="spacingAndGlyphs">40</text>
<text class="s" x="1142.9" y="1200.0" font-size="44.0" textLength="48.1" lengthAdjust="spacingAndGlyphs">60</text>
<text class="s" x="1650.9" y="1200.0" font-size="44.0" textLength="47.1" lengthAdjust="spacingAndGlyphs">80</text>
<polygon points="702.6,614.4 740.7,652.3 728.0,655.2 758.9,666.7 747.2,635.9 744.4,648.7 706.2,610.8" fill="#000"/>
<polygon points="1203.1,615.3 1241.0,654.2 1228.2,656.9 1258.9,668.9 1247.7,637.9 1244.7,650.6 1206.9,611.7" fill="#000"/>
<polygon points="1633.7,603.1 1616.9,637.1 1610.1,626.0 1609.1,658.9 1634.5,638.0 1621.6,639.4 1638.3,605.3" fill="#000"/>
</svg></body></html>
